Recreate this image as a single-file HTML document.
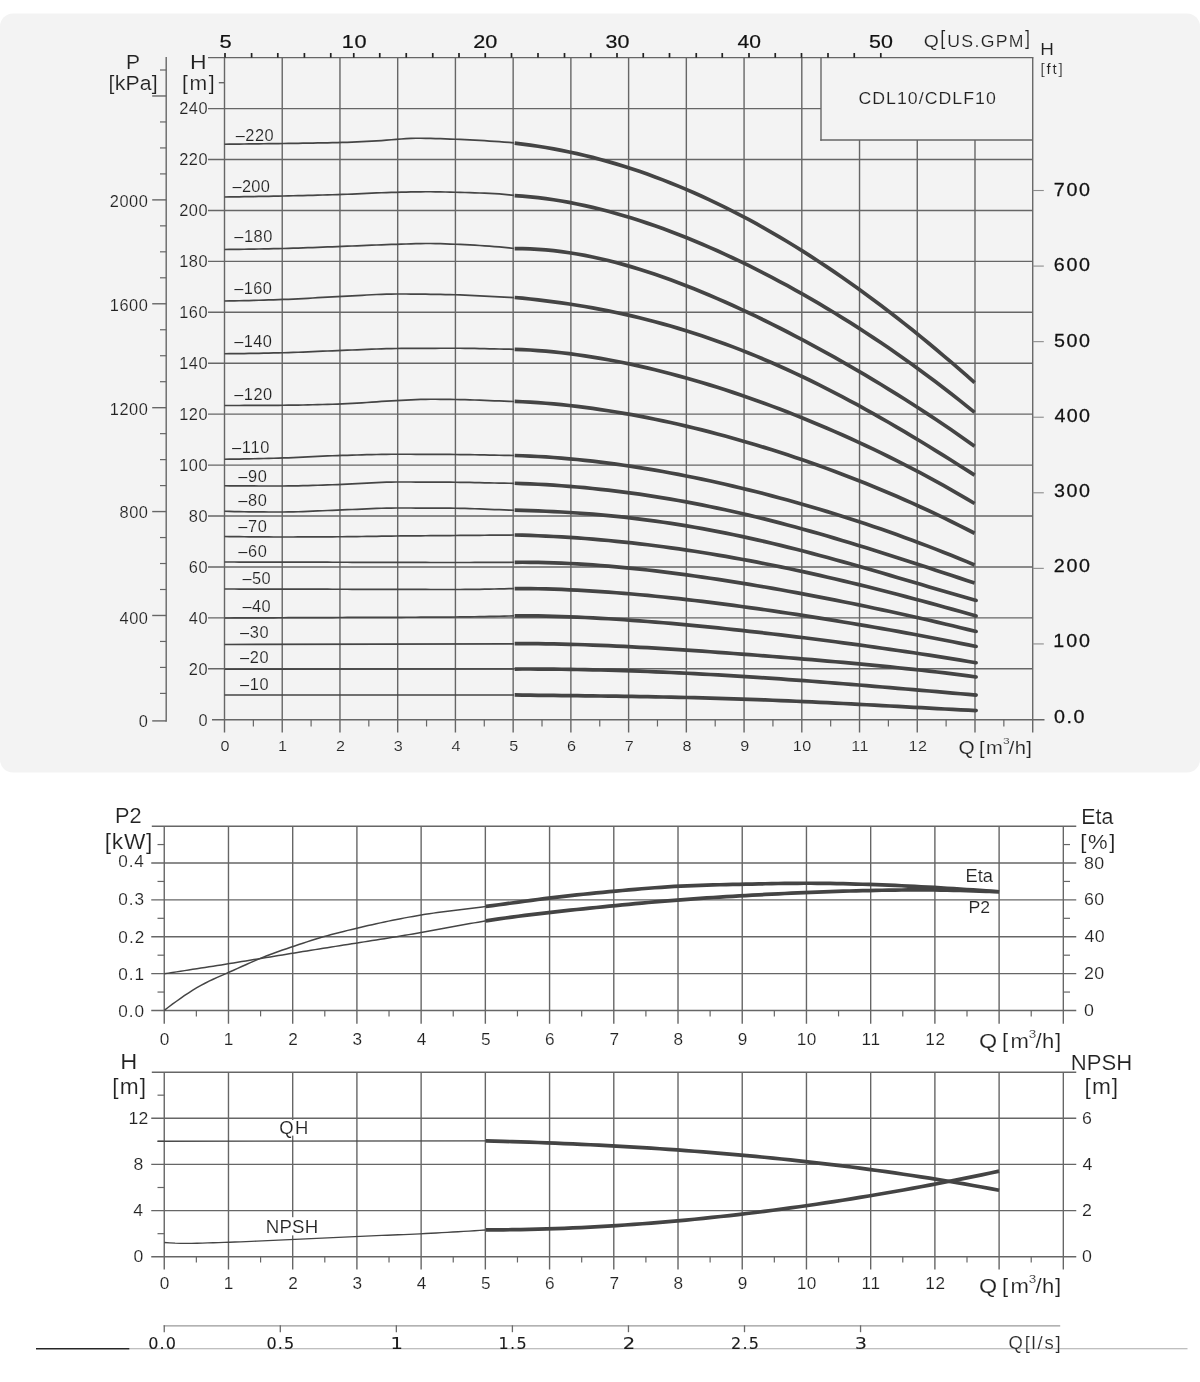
<!DOCTYPE html>
<html lang="en">
<head>
<meta charset="utf-8">
<title>CDL10/CDLF10 performance curves</title>
<style>
html,body{margin:0;padding:0;background:#fff;}
body{width:1200px;height:1382px;overflow:hidden;font-family:"Liberation Sans",sans-serif;}
svg{display:block;}
text{font-family:"Liberation Sans",sans-serif;}
</style>
</head>
<body>
<svg width="1200" height="1382" viewBox="0 0 1200 1382">
<rect x="0" y="0" width="1200" height="1382" fill="#ffffff"/>
<g id="top-chart">
<rect x="0" y="13.5" width="1200" height="759" rx="13" ry="13" fill="#f3f3f3"/>
<g fill="none" stroke-linecap="butt">
<line x1="224.50" y1="57.60" x2="224.50" y2="732.50" stroke="#666666" stroke-width="1.4"/>
<line x1="282.23" y1="57.60" x2="282.23" y2="732.50" stroke="#666666" stroke-width="1.4"/>
<line x1="339.96" y1="57.60" x2="339.96" y2="732.50" stroke="#666666" stroke-width="1.4"/>
<line x1="397.69" y1="57.60" x2="397.69" y2="732.50" stroke="#666666" stroke-width="1.4"/>
<line x1="455.42" y1="57.60" x2="455.42" y2="732.50" stroke="#666666" stroke-width="1.4"/>
<line x1="513.15" y1="57.60" x2="513.15" y2="732.50" stroke="#666666" stroke-width="1.4"/>
<line x1="570.88" y1="57.60" x2="570.88" y2="732.50" stroke="#666666" stroke-width="1.4"/>
<line x1="628.61" y1="57.60" x2="628.61" y2="732.50" stroke="#666666" stroke-width="1.4"/>
<line x1="686.34" y1="57.60" x2="686.34" y2="732.50" stroke="#666666" stroke-width="1.4"/>
<line x1="744.07" y1="57.60" x2="744.07" y2="732.50" stroke="#666666" stroke-width="1.4"/>
<line x1="801.80" y1="57.60" x2="801.80" y2="732.50" stroke="#666666" stroke-width="1.4"/>
<line x1="859.53" y1="140.00" x2="859.53" y2="732.50" stroke="#666666" stroke-width="1.4"/>
<line x1="917.26" y1="140.00" x2="917.26" y2="732.50" stroke="#666666" stroke-width="1.4"/>
<line x1="974.99" y1="140.00" x2="974.99" y2="732.50" stroke="#666666" stroke-width="1.4"/>
<line x1="1032.72" y1="57.60" x2="1032.72" y2="732.50" stroke="#666666" stroke-width="1.4"/>
<line x1="212.00" y1="719.75" x2="1044.50" y2="719.75" stroke="#666666" stroke-width="1.4"/>
<line x1="208.00" y1="668.82" x2="1032.72" y2="668.82" stroke="#666666" stroke-width="1.4"/>
<line x1="208.00" y1="617.89" x2="1032.72" y2="617.89" stroke="#666666" stroke-width="1.4"/>
<line x1="208.00" y1="566.96" x2="1032.72" y2="566.96" stroke="#666666" stroke-width="1.4"/>
<line x1="208.00" y1="516.03" x2="1032.72" y2="516.03" stroke="#666666" stroke-width="1.4"/>
<line x1="208.00" y1="465.10" x2="1032.72" y2="465.10" stroke="#666666" stroke-width="1.4"/>
<line x1="208.00" y1="414.17" x2="1032.72" y2="414.17" stroke="#666666" stroke-width="1.4"/>
<line x1="208.00" y1="363.24" x2="1032.72" y2="363.24" stroke="#666666" stroke-width="1.4"/>
<line x1="208.00" y1="312.31" x2="1032.72" y2="312.31" stroke="#666666" stroke-width="1.4"/>
<line x1="208.00" y1="261.38" x2="1032.72" y2="261.38" stroke="#666666" stroke-width="1.4"/>
<line x1="208.00" y1="210.45" x2="1032.72" y2="210.45" stroke="#666666" stroke-width="1.4"/>
<line x1="208.00" y1="159.52" x2="1032.72" y2="159.52" stroke="#666666" stroke-width="1.4"/>
<line x1="208.00" y1="108.59" x2="821.00" y2="108.59" stroke="#666666" stroke-width="1.4"/>
<line x1="208.00" y1="57.60" x2="1033.42" y2="57.60" stroke="#666666" stroke-width="1.4"/>
<line x1="821.00" y1="57.60" x2="821.00" y2="140.70" stroke="#666666" stroke-width="1.4"/>
<line x1="820.30" y1="140.00" x2="1032.72" y2="140.00" stroke="#666666" stroke-width="1.4"/>
<line x1="218.80" y1="82.70" x2="224.50" y2="82.70" stroke="#666666" stroke-width="1.4"/>
<line x1="253.37" y1="719.75" x2="253.37" y2="726.50" stroke="#666666" stroke-width="1.2"/>
<line x1="311.10" y1="719.75" x2="311.10" y2="726.50" stroke="#666666" stroke-width="1.2"/>
<line x1="368.82" y1="719.75" x2="368.82" y2="726.50" stroke="#666666" stroke-width="1.2"/>
<line x1="426.55" y1="719.75" x2="426.55" y2="726.50" stroke="#666666" stroke-width="1.2"/>
<line x1="484.28" y1="719.75" x2="484.28" y2="726.50" stroke="#666666" stroke-width="1.2"/>
<line x1="542.01" y1="719.75" x2="542.01" y2="726.50" stroke="#666666" stroke-width="1.2"/>
<line x1="599.75" y1="719.75" x2="599.75" y2="726.50" stroke="#666666" stroke-width="1.2"/>
<line x1="657.47" y1="719.75" x2="657.47" y2="726.50" stroke="#666666" stroke-width="1.2"/>
<line x1="715.20" y1="719.75" x2="715.20" y2="726.50" stroke="#666666" stroke-width="1.2"/>
<line x1="772.93" y1="719.75" x2="772.93" y2="726.50" stroke="#666666" stroke-width="1.2"/>
<line x1="830.66" y1="719.75" x2="830.66" y2="726.50" stroke="#666666" stroke-width="1.2"/>
<line x1="888.39" y1="719.75" x2="888.39" y2="726.50" stroke="#666666" stroke-width="1.2"/>
<line x1="946.12" y1="719.75" x2="946.12" y2="726.50" stroke="#666666" stroke-width="1.2"/>
<line x1="1003.85" y1="719.75" x2="1003.85" y2="726.50" stroke="#666666" stroke-width="1.2"/>
<line x1="225.00" y1="53.00" x2="225.00" y2="57.60" stroke="#222" stroke-width="1.7"/>
<line x1="251.60" y1="53.00" x2="251.60" y2="57.60" stroke="#222" stroke-width="1.7"/>
<line x1="277.80" y1="53.00" x2="277.80" y2="57.60" stroke="#222" stroke-width="1.7"/>
<line x1="304.40" y1="53.00" x2="304.40" y2="57.60" stroke="#222" stroke-width="1.7"/>
<line x1="330.75" y1="53.00" x2="330.75" y2="57.60" stroke="#222" stroke-width="1.7"/>
<line x1="353.75" y1="53.00" x2="353.75" y2="57.60" stroke="#222" stroke-width="1.7"/>
<line x1="379.75" y1="53.00" x2="379.75" y2="57.60" stroke="#222" stroke-width="1.7"/>
<line x1="406.25" y1="53.00" x2="406.25" y2="57.60" stroke="#222" stroke-width="1.7"/>
<line x1="432.75" y1="53.00" x2="432.75" y2="57.60" stroke="#222" stroke-width="1.7"/>
<line x1="459.00" y1="53.00" x2="459.00" y2="57.60" stroke="#222" stroke-width="1.7"/>
<line x1="485.25" y1="53.00" x2="485.25" y2="57.60" stroke="#222" stroke-width="1.7"/>
<line x1="511.50" y1="53.00" x2="511.50" y2="57.60" stroke="#222" stroke-width="1.7"/>
<line x1="538.00" y1="53.00" x2="538.00" y2="57.60" stroke="#222" stroke-width="1.7"/>
<line x1="564.50" y1="53.00" x2="564.50" y2="57.60" stroke="#222" stroke-width="1.7"/>
<line x1="590.75" y1="53.00" x2="590.75" y2="57.60" stroke="#222" stroke-width="1.7"/>
<line x1="617.00" y1="53.00" x2="617.00" y2="57.60" stroke="#222" stroke-width="1.7"/>
<line x1="643.25" y1="53.00" x2="643.25" y2="57.60" stroke="#222" stroke-width="1.7"/>
<line x1="669.50" y1="53.00" x2="669.50" y2="57.60" stroke="#222" stroke-width="1.7"/>
<line x1="696.25" y1="53.00" x2="696.25" y2="57.60" stroke="#222" stroke-width="1.7"/>
<line x1="722.25" y1="53.00" x2="722.25" y2="57.60" stroke="#222" stroke-width="1.7"/>
<line x1="749.00" y1="53.00" x2="749.00" y2="57.60" stroke="#222" stroke-width="1.7"/>
<line x1="775.25" y1="53.00" x2="775.25" y2="57.60" stroke="#222" stroke-width="1.7"/>
<line x1="801.50" y1="53.00" x2="801.50" y2="57.60" stroke="#222" stroke-width="1.7"/>
<line x1="828.00" y1="53.00" x2="828.00" y2="57.60" stroke="#222" stroke-width="1.7"/>
<line x1="854.25" y1="53.00" x2="854.25" y2="57.60" stroke="#222" stroke-width="1.7"/>
<line x1="880.80" y1="53.00" x2="880.80" y2="57.60" stroke="#222" stroke-width="1.7"/>
<line x1="166.20" y1="56.90" x2="166.20" y2="721.70" stroke="#666666" stroke-width="1.4"/>
<line x1="152.20" y1="720.90" x2="166.20" y2="720.90" stroke="#666666" stroke-width="1.4"/>
<line x1="160.00" y1="693.40" x2="166.20" y2="693.40" stroke="#666666" stroke-width="1.2"/>
<line x1="160.00" y1="667.42" x2="166.20" y2="667.42" stroke="#666666" stroke-width="1.2"/>
<line x1="160.00" y1="641.45" x2="166.20" y2="641.45" stroke="#666666" stroke-width="1.2"/>
<line x1="152.20" y1="615.48" x2="166.20" y2="615.48" stroke="#666666" stroke-width="1.4"/>
<line x1="160.00" y1="589.50" x2="166.20" y2="589.50" stroke="#666666" stroke-width="1.2"/>
<line x1="160.00" y1="563.52" x2="166.20" y2="563.52" stroke="#666666" stroke-width="1.2"/>
<line x1="160.00" y1="537.55" x2="166.20" y2="537.55" stroke="#666666" stroke-width="1.2"/>
<line x1="152.20" y1="511.57" x2="166.20" y2="511.57" stroke="#666666" stroke-width="1.4"/>
<line x1="160.00" y1="485.60" x2="166.20" y2="485.60" stroke="#666666" stroke-width="1.2"/>
<line x1="160.00" y1="459.62" x2="166.20" y2="459.62" stroke="#666666" stroke-width="1.2"/>
<line x1="160.00" y1="433.65" x2="166.20" y2="433.65" stroke="#666666" stroke-width="1.2"/>
<line x1="152.20" y1="407.68" x2="166.20" y2="407.68" stroke="#666666" stroke-width="1.4"/>
<line x1="160.00" y1="381.70" x2="166.20" y2="381.70" stroke="#666666" stroke-width="1.2"/>
<line x1="160.00" y1="355.73" x2="166.20" y2="355.73" stroke="#666666" stroke-width="1.2"/>
<line x1="160.00" y1="329.75" x2="166.20" y2="329.75" stroke="#666666" stroke-width="1.2"/>
<line x1="152.20" y1="303.78" x2="166.20" y2="303.78" stroke="#666666" stroke-width="1.4"/>
<line x1="160.00" y1="277.80" x2="166.20" y2="277.80" stroke="#666666" stroke-width="1.2"/>
<line x1="160.00" y1="251.82" x2="166.20" y2="251.82" stroke="#666666" stroke-width="1.2"/>
<line x1="160.00" y1="225.85" x2="166.20" y2="225.85" stroke="#666666" stroke-width="1.2"/>
<line x1="152.20" y1="199.88" x2="166.20" y2="199.88" stroke="#666666" stroke-width="1.4"/>
<line x1="160.00" y1="173.90" x2="166.20" y2="173.90" stroke="#666666" stroke-width="1.2"/>
<line x1="160.00" y1="147.93" x2="166.20" y2="147.93" stroke="#666666" stroke-width="1.2"/>
<line x1="160.00" y1="121.95" x2="166.20" y2="121.95" stroke="#666666" stroke-width="1.2"/>
<line x1="152.20" y1="95.98" x2="166.20" y2="95.98" stroke="#666666" stroke-width="1.4"/>
<line x1="160.00" y1="70.00" x2="166.20" y2="70.00" stroke="#666666" stroke-width="1.2"/>
<line x1="1032.72" y1="643.93" x2="1043.80" y2="643.93" stroke="#8c8c8c" stroke-width="1.1"/>
<line x1="1032.72" y1="568.36" x2="1043.80" y2="568.36" stroke="#8c8c8c" stroke-width="1.1"/>
<line x1="1032.72" y1="492.79" x2="1043.80" y2="492.79" stroke="#8c8c8c" stroke-width="1.1"/>
<line x1="1032.72" y1="417.22" x2="1043.80" y2="417.22" stroke="#8c8c8c" stroke-width="1.1"/>
<line x1="1032.72" y1="341.65" x2="1043.80" y2="341.65" stroke="#8c8c8c" stroke-width="1.1"/>
<line x1="1032.72" y1="266.08" x2="1043.80" y2="266.08" stroke="#8c8c8c" stroke-width="1.1"/>
<line x1="1032.72" y1="190.51" x2="1043.80" y2="190.51" stroke="#8c8c8c" stroke-width="1.1"/>
</g>
<g fill="none" stroke="#454545" stroke-width="1.7">
<path d="M224.50,144.25 L229.41,144.20 L234.31,144.14 L239.22,144.08 L244.13,144.02 L249.03,143.96 L253.94,143.90 L258.85,143.83 L263.75,143.77 L268.66,143.70 L273.57,143.63 L278.47,143.56 L283.38,143.49 L288.29,143.42 L293.19,143.35 L298.10,143.28 L303.01,143.20 L307.92,143.13 L312.82,143.05 L317.73,142.97 L322.64,142.88 L327.54,142.79 L332.45,142.68 L337.36,142.57 L342.26,142.44 L347.17,142.29 L352.08,142.11 L356.98,141.91 L361.89,141.69 L366.80,141.44 L371.70,141.18 L376.61,140.90 L381.52,140.60 L386.42,140.20 L391.33,139.74 L396.24,139.34 L401.14,139.00 L406.05,138.67 L410.96,138.40 L415.86,138.26 L420.77,138.27 L425.68,138.33 L430.58,138.43 L435.49,138.56 L440.40,138.71 L445.31,138.88 L450.21,139.06 L455.12,139.24 L460.03,139.42 L464.93,139.64 L469.84,139.88 L474.75,140.14 L479.65,140.42 L484.56,140.72 L489.47,141.04 L494.37,141.37 L499.28,141.70 L504.19,142.06 L509.09,142.47 L514.00,142.90"/>
<path d="M224.50,197.00 L229.41,196.94 L234.31,196.87 L239.22,196.79 L244.13,196.72 L249.03,196.63 L253.94,196.55 L258.85,196.46 L263.75,196.37 L268.66,196.28 L273.57,196.18 L278.47,196.08 L283.38,195.98 L288.29,195.88 L293.19,195.77 L298.10,195.65 L303.01,195.53 L307.92,195.41 L312.82,195.28 L317.73,195.15 L322.64,195.02 L327.54,194.88 L332.45,194.73 L337.36,194.58 L342.26,194.43 L347.17,194.25 L352.08,194.05 L356.98,193.85 L361.89,193.63 L366.80,193.41 L371.70,193.18 L376.61,192.97 L381.52,192.77 L386.42,192.58 L391.33,192.42 L396.24,192.28 L401.14,192.16 L406.05,192.04 L410.96,191.93 L415.86,191.84 L420.77,191.78 L425.68,191.75 L430.58,191.77 L435.49,191.82 L440.40,191.91 L445.31,192.01 L450.21,192.13 L455.12,192.24 L460.03,192.36 L464.93,192.49 L469.84,192.64 L474.75,192.80 L479.65,192.99 L484.56,193.19 L489.47,193.42 L494.37,193.68 L499.28,193.96 L504.19,194.33 L509.09,194.84 L514.00,195.40"/>
<path d="M224.50,249.50 L229.41,249.45 L234.31,249.40 L239.22,249.33 L244.13,249.26 L249.03,249.18 L253.94,249.10 L258.85,249.01 L263.75,248.91 L268.66,248.81 L273.57,248.70 L278.47,248.59 L283.38,248.48 L288.29,248.35 L293.19,248.21 L298.10,248.06 L303.01,247.90 L307.92,247.72 L312.82,247.54 L317.73,247.35 L322.64,247.16 L327.54,246.97 L332.45,246.78 L337.36,246.60 L342.26,246.42 L347.17,246.22 L352.08,246.02 L356.98,245.82 L361.89,245.61 L366.80,245.40 L371.70,245.19 L376.61,244.99 L381.52,244.79 L386.42,244.61 L391.33,244.44 L396.24,244.29 L401.14,244.14 L406.05,243.99 L410.96,243.84 L415.86,243.70 L420.77,243.59 L425.68,243.52 L430.58,243.50 L435.49,243.55 L440.40,243.68 L445.31,243.84 L450.21,244.04 L455.12,244.24 L460.03,244.44 L464.93,244.66 L469.84,244.92 L474.75,245.20 L479.65,245.50 L484.56,245.83 L489.47,246.18 L494.37,246.55 L499.28,246.94 L504.19,247.39 L509.09,247.92 L514.00,248.50"/>
<path d="M224.50,301.00 L229.41,300.93 L234.31,300.85 L239.22,300.75 L244.13,300.64 L249.03,300.53 L253.94,300.40 L258.85,300.26 L263.75,300.11 L268.66,299.96 L273.57,299.80 L278.47,299.64 L283.38,299.47 L288.29,299.28 L293.19,299.06 L298.10,298.82 L303.01,298.56 L307.92,298.28 L312.82,298.00 L317.73,297.72 L322.64,297.43 L327.54,297.15 L332.45,296.88 L337.36,296.63 L342.26,296.39 L347.17,296.13 L352.08,295.86 L356.98,295.57 L361.89,295.29 L366.80,295.01 L371.70,294.76 L376.61,294.52 L381.52,294.32 L386.42,294.16 L391.33,294.05 L396.24,294.00 L401.14,294.00 L406.05,294.02 L410.96,294.05 L415.86,294.09 L420.77,294.15 L425.68,294.21 L430.58,294.28 L435.49,294.36 L440.40,294.45 L445.31,294.54 L450.21,294.64 L455.12,294.74 L460.03,294.87 L464.93,295.06 L469.84,295.30 L474.75,295.56 L479.65,295.85 L484.56,296.15 L489.47,296.44 L494.37,296.72 L499.28,296.97 L504.19,297.19 L509.09,297.40 L514.00,297.60"/>
<path d="M224.50,353.75 L229.41,353.71 L234.31,353.66 L239.22,353.60 L244.13,353.54 L249.03,353.46 L253.94,353.37 L258.85,353.28 L263.75,353.18 L268.66,353.07 L273.57,352.96 L278.47,352.85 L283.38,352.73 L288.29,352.59 L293.19,352.44 L298.10,352.26 L303.01,352.07 L307.92,351.86 L312.82,351.65 L317.73,351.43 L322.64,351.22 L327.54,351.00 L332.45,350.80 L337.36,350.60 L342.26,350.41 L347.17,350.22 L352.08,350.01 L356.98,349.80 L361.89,349.58 L366.80,349.37 L371.70,349.17 L376.61,348.99 L381.52,348.82 L386.42,348.69 L391.33,348.58 L396.24,348.51 L401.14,348.47 L406.05,348.44 L410.96,348.40 L415.86,348.37 L420.77,348.35 L425.68,348.32 L430.58,348.30 L435.49,348.28 L440.40,348.27 L445.31,348.26 L450.21,348.25 L455.12,348.25 L460.03,348.26 L464.93,348.31 L469.84,348.37 L474.75,348.46 L479.65,348.56 L484.56,348.66 L489.47,348.78 L494.37,348.88 L499.28,348.99 L504.19,349.08 L509.09,349.19 L514.00,349.30"/>
<path d="M224.50,405.50 L229.41,405.50 L234.31,405.49 L239.22,405.48 L244.13,405.47 L249.03,405.45 L253.94,405.43 L258.85,405.40 L263.75,405.37 L268.66,405.34 L273.57,405.31 L278.47,405.28 L283.38,405.24 L288.29,405.20 L293.19,405.14 L298.10,405.06 L303.01,404.98 L307.92,404.88 L312.82,404.77 L317.73,404.65 L322.64,404.52 L327.54,404.38 L332.45,404.24 L337.36,404.08 L342.26,403.92 L347.17,403.71 L352.08,403.45 L356.98,403.16 L361.89,402.83 L366.80,402.49 L371.70,402.14 L376.61,401.79 L381.52,401.44 L386.42,401.12 L391.33,400.82 L396.24,400.56 L401.14,400.32 L406.05,400.07 L410.96,399.82 L415.86,399.59 L420.77,399.41 L425.68,399.29 L430.58,399.25 L435.49,399.27 L440.40,399.30 L445.31,399.36 L450.21,399.42 L455.12,399.49 L460.03,399.58 L464.93,399.70 L469.84,399.85 L474.75,400.02 L479.65,400.21 L484.56,400.40 L489.47,400.60 L494.37,400.79 L499.28,400.97 L504.19,401.15 L509.09,401.32 L514.00,401.50"/>
<path d="M224.50,459.25 L229.41,459.19 L234.31,459.12 L239.22,459.04 L244.13,458.95 L249.03,458.85 L253.94,458.75 L258.85,458.63 L263.75,458.51 L268.66,458.38 L273.57,458.25 L278.47,458.11 L283.38,457.97 L288.29,457.81 L293.19,457.62 L298.10,457.40 L303.01,457.16 L307.92,456.92 L312.82,456.67 L317.73,456.42 L322.64,456.19 L327.54,455.96 L332.45,455.76 L337.36,455.58 L342.26,455.43 L347.17,455.29 L352.08,455.14 L356.98,454.99 L361.89,454.85 L366.80,454.72 L371.70,454.59 L376.61,454.49 L381.52,454.39 L386.42,454.32 L391.33,454.27 L396.24,454.25 L401.14,454.25 L406.05,454.26 L410.96,454.27 L415.86,454.28 L420.77,454.30 L425.68,454.32 L430.58,454.34 L435.49,454.37 L440.40,454.40 L445.31,454.43 L450.21,454.46 L455.12,454.50 L460.03,454.54 L464.93,454.60 L469.84,454.68 L474.75,454.76 L479.65,454.85 L484.56,454.95 L489.47,455.05 L494.37,455.15 L499.28,455.24 L504.19,455.32 L509.09,455.41 L514.00,455.50"/>
<path d="M224.50,485.75 L229.41,485.81 L234.31,485.86 L239.22,485.90 L244.13,485.93 L249.03,485.95 L253.94,485.97 L258.85,485.98 L263.75,485.99 L268.66,486.00 L273.57,486.00 L278.47,486.00 L283.38,486.00 L288.29,485.97 L293.19,485.92 L298.10,485.83 L303.01,485.72 L307.92,485.58 L312.82,485.43 L317.73,485.27 L322.64,485.10 L327.54,484.93 L332.45,484.76 L337.36,484.59 L342.26,484.42 L347.17,484.21 L352.08,483.97 L356.98,483.70 L361.89,483.42 L366.80,483.13 L371.70,482.85 L376.61,482.59 L381.52,482.37 L386.42,482.19 L391.33,482.06 L396.24,482.00 L401.14,482.00 L406.05,482.01 L410.96,482.02 L415.86,482.03 L420.77,482.05 L425.68,482.07 L430.58,482.09 L435.49,482.12 L440.40,482.15 L445.31,482.18 L450.21,482.21 L455.12,482.25 L460.03,482.29 L464.93,482.37 L469.84,482.46 L474.75,482.56 L479.65,482.67 L484.56,482.78 L489.47,482.90 L494.37,483.00 L499.28,483.09 L504.19,483.16 L509.09,483.23 L514.00,483.30"/>
<path d="M224.50,511.25 L229.41,511.42 L234.31,511.56 L239.22,511.67 L244.13,511.77 L249.03,511.84 L253.94,511.90 L258.85,511.94 L263.75,511.97 L268.66,511.99 L273.57,512.00 L278.47,512.00 L283.38,512.00 L288.29,511.96 L293.19,511.87 L298.10,511.75 L303.01,511.58 L307.92,511.39 L312.82,511.18 L317.73,510.96 L322.64,510.73 L327.54,510.51 L332.45,510.29 L337.36,510.10 L342.26,509.92 L347.17,509.72 L352.08,509.51 L356.98,509.29 L361.89,509.06 L366.80,508.84 L371.70,508.62 L376.61,508.43 L381.52,508.27 L386.42,508.13 L391.33,508.04 L396.24,508.00 L401.14,508.00 L406.05,508.01 L410.96,508.02 L415.86,508.03 L420.77,508.04 L425.68,508.06 L430.58,508.09 L435.49,508.11 L440.40,508.14 L445.31,508.17 L450.21,508.21 L455.12,508.25 L460.03,508.31 L464.93,508.42 L469.84,508.56 L474.75,508.73 L479.65,508.93 L484.56,509.13 L489.47,509.34 L494.37,509.54 L499.28,509.72 L504.19,509.90 L509.09,510.07 L514.00,510.25"/>
<path d="M224.50,536.50 L229.41,536.57 L234.31,536.64 L239.22,536.70 L244.13,536.76 L249.03,536.82 L253.94,536.86 L258.85,536.90 L263.75,536.94 L268.66,536.97 L273.57,536.99 L278.47,537.00 L283.38,537.00 L288.29,537.00 L293.19,536.99 L298.10,536.97 L303.01,536.96 L307.92,536.94 L312.82,536.91 L317.73,536.89 L322.64,536.86 L327.54,536.83 L332.45,536.80 L337.36,536.77 L342.26,536.73 L347.17,536.69 L352.08,536.64 L356.98,536.57 L361.89,536.51 L366.80,536.43 L371.70,536.36 L376.61,536.28 L381.52,536.21 L386.42,536.14 L391.33,536.07 L396.24,536.01 L401.14,535.96 L406.05,535.92 L410.96,535.87 L415.86,535.83 L420.77,535.78 L425.68,535.74 L430.58,535.70 L435.49,535.66 L440.40,535.62 L445.31,535.59 L450.21,535.54 L455.12,535.50 L460.03,535.46 L464.93,535.42 L469.84,535.38 L474.75,535.34 L479.65,535.29 L484.56,535.25 L489.47,535.21 L494.37,535.17 L499.28,535.13 L504.19,535.08 L509.09,535.04 L514.00,535.00"/>
<path d="M224.50,562.00 L229.41,562.01 L234.31,562.02 L239.22,562.03 L244.13,562.04 L249.03,562.05 L253.94,562.06 L258.85,562.07 L263.75,562.08 L268.66,562.10 L273.57,562.11 L278.47,562.12 L283.38,562.13 L288.29,562.14 L293.19,562.15 L298.10,562.16 L303.01,562.17 L307.92,562.18 L312.82,562.19 L317.73,562.20 L322.64,562.21 L327.54,562.22 L332.45,562.23 L337.36,562.24 L342.26,562.25 L347.17,562.27 L352.08,562.28 L356.98,562.29 L361.89,562.30 L366.80,562.32 L371.70,562.33 L376.61,562.35 L381.52,562.36 L386.42,562.37 L391.33,562.39 L396.24,562.40 L401.14,562.42 L406.05,562.43 L410.96,562.44 L415.86,562.45 L420.77,562.46 L425.68,562.47 L430.58,562.48 L435.49,562.49 L440.40,562.49 L445.31,562.50 L450.21,562.50 L455.12,562.50 L460.03,562.50 L464.93,562.49 L469.84,562.48 L474.75,562.46 L479.65,562.45 L484.56,562.42 L489.47,562.40 L494.37,562.37 L499.28,562.34 L504.19,562.31 L509.09,562.28 L514.00,562.25"/>
<path d="M224.50,589.00 L229.41,589.01 L234.31,589.02 L239.22,589.03 L244.13,589.04 L249.03,589.05 L253.94,589.06 L258.85,589.07 L263.75,589.08 L268.66,589.10 L273.57,589.11 L278.47,589.12 L283.38,589.13 L288.29,589.14 L293.19,589.15 L298.10,589.16 L303.01,589.17 L307.92,589.18 L312.82,589.19 L317.73,589.20 L322.64,589.21 L327.54,589.22 L332.45,589.23 L337.36,589.24 L342.26,589.25 L347.17,589.27 L352.08,589.28 L356.98,589.29 L361.89,589.30 L366.80,589.32 L371.70,589.33 L376.61,589.35 L381.52,589.36 L386.42,589.37 L391.33,589.39 L396.24,589.40 L401.14,589.42 L406.05,589.43 L410.96,589.44 L415.86,589.45 L420.77,589.46 L425.68,589.47 L430.58,589.48 L435.49,589.49 L440.40,589.49 L445.31,589.50 L450.21,589.50 L455.12,589.50 L460.03,589.49 L464.93,589.46 L469.84,589.42 L474.75,589.36 L479.65,589.29 L484.56,589.21 L489.47,589.12 L494.37,589.02 L499.28,588.92 L504.19,588.81 L509.09,588.71 L514.00,588.60"/>
<path d="M224.50,618.00 L229.41,617.98 L234.31,617.96 L239.22,617.94 L244.13,617.92 L249.03,617.89 L253.94,617.87 L258.85,617.85 L263.75,617.83 L268.66,617.81 L273.57,617.79 L278.47,617.77 L283.38,617.75 L288.29,617.72 L293.19,617.70 L298.10,617.68 L303.01,617.66 L307.92,617.64 L312.82,617.62 L317.73,617.60 L322.64,617.58 L327.54,617.55 L332.45,617.53 L337.36,617.51 L342.26,617.49 L347.17,617.47 L352.08,617.45 L356.98,617.43 L361.89,617.42 L366.80,617.40 L371.70,617.38 L376.61,617.37 L381.52,617.35 L386.42,617.34 L391.33,617.32 L396.24,617.30 L401.14,617.28 L406.05,617.27 L410.96,617.25 L415.86,617.23 L420.77,617.21 L425.68,617.18 L430.58,617.16 L435.49,617.13 L440.40,617.10 L445.31,617.07 L450.21,617.04 L455.12,617.00 L460.03,616.96 L464.93,616.90 L469.84,616.84 L474.75,616.76 L479.65,616.67 L484.56,616.57 L489.47,616.47 L494.37,616.36 L499.28,616.25 L504.19,616.13 L509.09,616.02 L514.00,615.90"/>
<path d="M224.50,644.50 L514.00,643.90"/>
<path d="M224.50,669.25 L514.00,669.00"/>
<path d="M224.50,695.00 L514.00,695.00"/>
</g>
<g fill="none" stroke="#444444" stroke-width="3.7" stroke-linecap="butt">
<path d="M514.65,143.20 L522.45,144.11 L530.24,145.14 L538.04,146.27 L545.83,147.52 L553.63,148.89 L561.42,150.36 L569.22,151.96 L577.01,153.66 L584.81,155.48 L592.61,157.41 L600.40,159.46 L608.20,161.61 L615.99,163.88 L623.79,166.27 L631.58,168.76 L639.38,171.37 L647.18,174.09 L654.97,176.92 L662.77,179.87 L670.56,182.92 L678.36,186.09 L686.15,189.36 L693.95,192.75 L701.74,196.24 L709.54,199.84 L717.34,203.55 L725.13,207.37 L732.93,211.30 L740.72,215.34 L748.52,219.48 L756.31,223.72 L764.11,228.07 L771.90,232.53 L779.70,237.09 L787.50,241.76 L795.29,246.52 L803.09,251.39 L810.88,256.36 L818.68,261.43 L826.47,266.60 L834.27,271.87 L842.06,277.24 L849.86,282.70 L857.66,288.27 L865.45,293.92 L873.25,299.67 L881.04,305.52 L888.84,311.46 L896.63,317.49 L904.43,323.61 L912.23,329.82 L920.02,336.12 L927.82,342.51 L935.61,348.99 L943.41,355.55 L951.20,362.19 L959.00,368.92 L966.79,375.73 L974.59,382.62"/>
<path d="M514.65,195.57 L522.45,196.11 L530.24,196.81 L538.04,197.66 L545.83,198.65 L553.63,199.78 L561.42,201.04 L569.22,202.44 L577.01,203.97 L584.81,205.63 L592.61,207.41 L600.40,209.31 L608.20,211.33 L615.99,213.47 L623.79,215.72 L631.58,218.08 L639.38,220.55 L647.18,223.13 L654.97,225.81 L662.77,228.59 L670.56,231.48 L678.36,234.46 L686.15,237.54 L693.95,240.71 L701.74,243.98 L709.54,247.33 L717.34,250.78 L725.13,254.32 L732.93,257.95 L740.72,261.66 L748.52,265.46 L756.31,269.35 L764.11,273.32 L771.90,277.37 L779.70,281.51 L787.50,285.73 L795.29,290.03 L803.09,294.41 L810.88,298.88 L818.68,303.43 L826.47,308.06 L834.27,312.77 L842.06,317.57 L849.86,322.44 L857.66,327.41 L865.45,332.45 L873.25,337.58 L881.04,342.79 L888.84,348.09 L896.63,353.48 L904.43,358.96 L912.23,364.52 L920.02,370.18 L927.82,375.92 L935.61,381.76 L943.41,387.70 L951.20,393.73 L959.00,399.86 L966.79,406.09 L974.59,412.42"/>
<path d="M514.65,248.67 L522.45,248.69 L530.24,248.90 L538.04,249.30 L545.83,249.89 L553.63,250.66 L561.42,251.60 L569.22,252.71 L577.01,253.98 L584.81,255.40 L592.61,256.98 L600.40,258.69 L608.20,260.55 L615.99,262.54 L623.79,264.66 L631.58,266.90 L639.38,269.27 L647.18,271.74 L654.97,274.33 L662.77,277.03 L670.56,279.83 L678.36,282.72 L686.15,285.72 L693.95,288.80 L701.74,291.98 L709.54,295.23 L717.34,298.58 L725.13,302.00 L732.93,305.50 L740.72,309.07 L748.52,312.72 L756.31,316.44 L764.11,320.23 L771.90,324.08 L779.70,328.00 L787.50,331.99 L795.29,336.04 L803.09,340.15 L810.88,344.32 L818.68,348.55 L826.47,352.84 L834.27,357.19 L842.06,361.60 L849.86,366.07 L857.66,370.60 L865.45,375.18 L873.25,379.83 L881.04,384.54 L888.84,389.31 L896.63,394.14 L904.43,399.03 L912.23,403.99 L920.02,409.02 L927.82,414.11 L935.61,419.28 L943.41,424.51 L951.20,429.82 L959.00,435.20 L966.79,440.67 L974.59,446.21"/>
<path d="M514.65,297.47 L522.45,298.21 L530.24,299.01 L538.04,299.88 L545.83,300.81 L553.63,301.81 L561.42,302.88 L569.22,304.02 L577.01,305.23 L584.81,306.52 L592.61,307.89 L600.40,309.33 L608.20,310.85 L615.99,312.46 L623.79,314.15 L631.58,315.92 L639.38,317.78 L647.18,319.72 L654.97,321.75 L662.77,323.86 L670.56,326.06 L678.36,328.36 L686.15,330.74 L693.95,333.20 L701.74,335.76 L709.54,338.41 L717.34,341.14 L725.13,343.97 L732.93,346.88 L740.72,349.88 L748.52,352.97 L756.31,356.15 L764.11,359.42 L771.90,362.77 L779.70,366.20 L787.50,369.72 L795.29,373.32 L803.09,377.01 L810.88,380.78 L818.68,384.62 L826.47,388.54 L834.27,392.54 L842.06,396.62 L849.86,400.76 L857.66,404.98 L865.45,409.27 L873.25,413.62 L881.04,418.04 L888.84,422.52 L896.63,427.06 L904.43,431.66 L912.23,436.32 L920.02,441.02 L927.82,445.77 L935.61,450.58 L943.41,455.42 L951.20,460.30 L959.00,465.23 L966.79,470.18 L974.59,475.17"/>
<path d="M514.65,349.28 L522.45,349.59 L530.24,350.02 L538.04,350.55 L545.83,351.18 L553.63,351.92 L561.42,352.76 L569.22,353.69 L577.01,354.72 L584.81,355.85 L592.61,357.06 L600.40,358.36 L608.20,359.75 L615.99,361.22 L623.79,362.78 L631.58,364.42 L639.38,366.13 L647.18,367.92 L654.97,369.79 L662.77,371.74 L670.56,373.75 L678.36,375.84 L686.15,378.00 L693.95,380.23 L701.74,382.52 L709.54,384.88 L717.34,387.31 L725.13,389.81 L732.93,392.37 L740.72,394.99 L748.52,397.68 L756.31,400.43 L764.11,403.24 L771.90,406.12 L779.70,409.06 L787.50,412.05 L795.29,415.11 L803.09,418.24 L810.88,421.42 L818.68,424.67 L826.47,427.97 L834.27,431.34 L842.06,434.78 L849.86,438.27 L857.66,441.83 L865.45,445.46 L873.25,449.15 L881.04,452.90 L888.84,456.72 L896.63,460.61 L904.43,464.57 L912.23,468.60 L920.02,472.70 L927.82,476.87 L935.61,481.11 L943.41,485.43 L951.20,489.83 L959.00,494.30 L966.79,498.86 L974.59,503.50"/>
<path d="M514.65,401.40 L522.45,401.75 L530.24,402.18 L538.04,402.69 L545.83,403.28 L553.63,403.95 L561.42,404.70 L569.22,405.53 L577.01,406.43 L584.81,407.40 L592.61,408.44 L600.40,409.56 L608.20,410.74 L615.99,411.99 L623.79,413.31 L631.58,414.69 L639.38,416.14 L647.18,417.65 L654.97,419.22 L662.77,420.85 L670.56,422.55 L678.36,424.30 L686.15,426.11 L693.95,427.99 L701.74,429.92 L709.54,431.90 L717.34,433.95 L725.13,436.04 L732.93,438.20 L740.72,440.41 L748.52,442.68 L756.31,445.00 L764.11,447.38 L771.90,449.81 L779.70,452.29 L787.50,454.83 L795.29,457.43 L803.09,460.08 L810.88,462.79 L818.68,465.55 L826.47,468.37 L834.27,471.24 L842.06,474.17 L849.86,477.15 L857.66,480.20 L865.45,483.30 L873.25,486.46 L881.04,489.68 L888.84,492.96 L896.63,496.30 L904.43,499.70 L912.23,503.17 L920.02,506.70 L927.82,510.29 L935.61,513.95 L943.41,517.67 L951.20,521.47 L959.00,525.33 L966.79,529.26 L974.59,533.27"/>
<path d="M514.65,455.49 L522.45,455.75 L530.24,456.09 L538.04,456.49 L545.83,456.97 L553.63,457.51 L561.42,458.12 L569.22,458.79 L577.01,459.53 L584.81,460.33 L592.61,461.19 L600.40,462.12 L608.20,463.10 L615.99,464.14 L623.79,465.23 L631.58,466.39 L639.38,467.60 L647.18,468.86 L654.97,470.17 L662.77,471.54 L670.56,472.96 L678.36,474.43 L686.15,475.96 L693.95,477.53 L701.74,479.15 L709.54,480.81 L717.34,482.53 L725.13,484.29 L732.93,486.10 L740.72,487.96 L748.52,489.86 L756.31,491.81 L764.11,493.81 L771.90,495.85 L779.70,497.93 L787.50,500.06 L795.29,502.23 L803.09,504.45 L810.88,506.72 L818.68,509.02 L826.47,511.38 L834.27,513.77 L842.06,516.22 L849.86,518.70 L857.66,521.23 L865.45,523.81 L873.25,526.44 L881.04,529.11 L888.84,531.82 L896.63,534.58 L904.43,537.40 L912.23,540.25 L920.02,543.16 L927.82,546.12 L935.61,549.12 L943.41,552.18 L951.20,555.28 L959.00,558.44 L966.79,561.65 L974.59,564.92"/>
<path d="M514.65,483.25 L522.45,483.54 L530.24,483.88 L538.04,484.27 L545.83,484.71 L553.63,485.20 L561.42,485.75 L569.22,486.35 L577.01,487.00 L584.81,487.71 L592.61,488.47 L600.40,489.29 L608.20,490.16 L615.99,491.09 L623.79,492.07 L631.58,493.11 L639.38,494.20 L647.18,495.34 L654.97,496.55 L662.77,497.80 L670.56,499.12 L678.36,500.48 L686.15,501.90 L693.95,503.37 L701.74,504.90 L709.54,506.48 L717.34,508.10 L725.13,509.78 L732.93,511.51 L740.72,513.29 L748.52,515.12 L756.31,517.00 L764.11,518.92 L771.90,520.89 L779.70,522.90 L787.50,524.95 L795.29,527.05 L803.09,529.19 L810.88,531.36 L818.68,533.58 L826.47,535.83 L834.27,538.11 L842.06,540.43 L849.86,542.78 L857.66,545.16 L865.45,547.57 L873.25,550.00 L881.04,552.46 L888.84,554.94 L896.63,557.44 L904.43,559.95 L912.23,562.48 L920.02,565.03 L927.82,567.59 L935.61,570.15 L943.41,572.73 L951.20,575.30 L959.00,577.88 L966.79,580.46 L974.59,583.03"/>
<path d="M514.65,510.22 L522.47,510.41 L530.30,510.64 L538.12,510.92 L545.94,511.24 L553.76,511.61 L561.59,512.02 L569.41,512.49 L577.23,513.01 L585.05,513.57 L592.88,514.19 L600.70,514.87 L608.52,515.60 L616.35,516.38 L624.17,517.21 L631.99,518.11 L639.81,519.06 L647.64,520.06 L655.46,521.12 L663.28,522.24 L671.10,523.41 L678.93,524.64 L686.75,525.92 L694.57,527.26 L702.40,528.65 L710.22,530.10 L718.04,531.60 L725.86,533.15 L733.69,534.76 L741.51,536.41 L749.33,538.11 L757.15,539.87 L764.98,541.66 L772.80,543.51 L780.62,545.40 L788.44,547.33 L796.27,549.30 L804.09,551.31 L811.91,553.36 L819.74,555.44 L827.56,557.55 L835.38,559.70 L843.20,561.87 L851.03,564.07 L858.85,566.30 L866.67,568.54 L874.49,570.80 L882.32,573.08 L890.14,575.37 L897.96,577.67 L905.79,579.98 L913.61,582.29 L921.43,584.60 L929.25,586.90 L937.08,589.20 L944.90,591.49 L952.72,593.76 L960.54,596.02 L968.37,598.25 L976.19,600.46"/>
<circle cx="976.19" cy="600.46" r="1.8" fill="#444444" stroke="none"/>
<path d="M514.65,535.01 L522.47,535.21 L530.30,535.46 L538.12,535.76 L545.94,536.10 L553.76,536.49 L561.59,536.93 L569.41,537.41 L577.23,537.95 L585.05,538.52 L592.88,539.15 L600.70,539.82 L608.52,540.53 L616.35,541.29 L624.17,542.09 L631.99,542.94 L639.81,543.83 L647.64,544.77 L655.46,545.75 L663.28,546.77 L671.10,547.84 L678.93,548.94 L686.75,550.09 L694.57,551.28 L702.40,552.50 L710.22,553.77 L718.04,555.08 L725.86,556.43 L733.69,557.81 L741.51,559.23 L749.33,560.69 L757.15,562.19 L764.98,563.72 L772.80,565.28 L780.62,566.88 L788.44,568.52 L796.27,570.19 L804.09,571.89 L811.91,573.62 L819.74,575.38 L827.56,577.18 L835.38,579.00 L843.20,580.85 L851.03,582.73 L858.85,584.64 L866.67,586.57 L874.49,588.53 L882.32,590.52 L890.14,592.53 L897.96,594.56 L905.79,596.61 L913.61,598.69 L921.43,600.78 L929.25,602.90 L937.08,605.03 L944.90,607.18 L952.72,609.35 L960.54,611.53 L968.37,613.73 L976.19,615.94"/>
<circle cx="976.19" cy="615.94" r="1.8" fill="#444444" stroke="none"/>
<path d="M514.65,562.30 L522.47,562.27 L530.30,562.32 L538.12,562.43 L545.94,562.61 L553.76,562.85 L561.59,563.15 L569.41,563.52 L577.23,563.94 L585.05,564.41 L592.88,564.94 L600.70,565.53 L608.52,566.16 L616.35,566.84 L624.17,567.56 L631.99,568.34 L639.81,569.15 L647.64,570.01 L655.46,570.91 L663.28,571.85 L671.10,572.82 L678.93,573.83 L686.75,574.88 L694.57,575.96 L702.40,577.07 L710.22,578.22 L718.04,579.39 L725.86,580.60 L733.69,581.84 L741.51,583.10 L749.33,584.39 L757.15,585.70 L764.98,587.04 L772.80,588.41 L780.62,589.80 L788.44,591.21 L796.27,592.65 L804.09,594.11 L811.91,595.59 L819.74,597.09 L827.56,598.62 L835.38,600.16 L843.20,601.73 L851.03,603.31 L858.85,604.92 L866.67,606.54 L874.49,608.19 L882.32,609.86 L890.14,611.55 L897.96,613.25 L905.79,614.98 L913.61,616.73 L921.43,618.50 L929.25,620.29 L937.08,622.11 L944.90,623.94 L952.72,625.80 L960.54,627.68 L968.37,629.59 L976.19,631.52"/>
<circle cx="976.19" cy="631.52" r="1.8" fill="#444444" stroke="none"/>
<path d="M514.65,588.55 L522.47,588.56 L530.30,588.63 L538.12,588.76 L545.94,588.94 L553.76,589.18 L561.59,589.46 L569.41,589.80 L577.23,590.18 L585.05,590.60 L592.88,591.07 L600.70,591.58 L608.52,592.14 L616.35,592.73 L624.17,593.36 L631.99,594.02 L639.81,594.72 L647.64,595.46 L655.46,596.23 L663.28,597.02 L671.10,597.85 L678.93,598.71 L686.75,599.60 L694.57,600.51 L702.40,601.45 L710.22,602.41 L718.04,603.40 L725.86,604.41 L733.69,605.44 L741.51,606.50 L749.33,607.57 L757.15,608.67 L764.98,609.79 L772.80,610.92 L780.62,612.08 L788.44,613.25 L796.27,614.44 L804.09,615.65 L811.91,616.88 L819.74,618.12 L827.56,619.38 L835.38,620.65 L843.20,621.95 L851.03,623.25 L858.85,624.58 L866.67,625.92 L874.49,627.27 L882.32,628.65 L890.14,630.04 L897.96,631.44 L905.79,632.86 L913.61,634.30 L921.43,635.76 L929.25,637.23 L937.08,638.73 L944.90,640.24 L952.72,641.77 L960.54,643.32 L968.37,644.89 L976.19,646.48"/>
<circle cx="976.19" cy="646.48" r="1.8" fill="#444444" stroke="none"/>
<path d="M514.65,615.78 L522.47,615.79 L530.30,615.85 L538.12,615.95 L545.94,616.11 L553.76,616.30 L561.59,616.54 L569.41,616.82 L577.23,617.13 L585.05,617.49 L592.88,617.88 L600.70,618.30 L608.52,618.76 L616.35,619.25 L624.17,619.77 L631.99,620.31 L639.81,620.89 L647.64,621.49 L655.46,622.12 L663.28,622.77 L671.10,623.45 L678.93,624.15 L686.75,624.87 L694.57,625.61 L702.40,626.37 L710.22,627.15 L718.04,627.95 L725.86,628.76 L733.69,629.59 L741.51,630.44 L749.33,631.31 L757.15,632.19 L764.98,633.09 L772.80,634.00 L780.62,634.92 L788.44,635.86 L796.27,636.82 L804.09,637.78 L811.91,638.76 L819.74,639.76 L827.56,640.77 L835.38,641.79 L843.20,642.82 L851.03,643.87 L858.85,644.94 L866.67,646.01 L874.49,647.10 L882.32,648.21 L890.14,649.33 L897.96,650.47 L905.79,651.62 L913.61,652.79 L921.43,653.97 L929.25,655.18 L937.08,656.40 L944.90,657.64 L952.72,658.90 L960.54,660.18 L968.37,661.48 L976.19,662.80"/>
<circle cx="976.19" cy="662.80" r="1.8" fill="#444444" stroke="none"/>
<path d="M514.65,643.71 L522.47,643.67 L530.30,643.67 L538.12,643.72 L545.94,643.80 L553.76,643.93 L561.59,644.09 L569.41,644.28 L577.23,644.51 L585.05,644.77 L592.88,645.05 L600.70,645.37 L608.52,645.70 L616.35,646.06 L624.17,646.45 L631.99,646.85 L639.81,647.28 L647.64,647.72 L655.46,648.17 L663.28,648.65 L671.10,649.14 L678.93,649.64 L686.75,650.15 L694.57,650.68 L702.40,651.22 L710.22,651.77 L718.04,652.33 L725.86,652.90 L733.69,653.48 L741.51,654.06 L749.33,654.66 L757.15,655.26 L764.98,655.87 L772.80,656.49 L780.62,657.12 L788.44,657.75 L796.27,658.39 L804.09,659.05 L811.91,659.71 L819.74,660.38 L827.56,661.06 L835.38,661.75 L843.20,662.45 L851.03,663.16 L858.85,663.88 L866.67,664.62 L874.49,665.37 L882.32,666.14 L890.14,666.92 L897.96,667.72 L905.79,668.54 L913.61,669.38 L921.43,670.24 L929.25,671.12 L937.08,672.03 L944.90,672.96 L952.72,673.92 L960.54,674.91 L968.37,675.93 L976.19,676.98"/>
<circle cx="976.19" cy="676.98" r="1.8" fill="#444444" stroke="none"/>
<path d="M514.65,669.04 L522.47,669.02 L530.30,669.02 L538.12,669.05 L545.94,669.09 L553.76,669.16 L561.59,669.24 L569.41,669.35 L577.23,669.48 L585.05,669.62 L592.88,669.79 L600.70,669.98 L608.52,670.18 L616.35,670.41 L624.17,670.65 L631.99,670.91 L639.81,671.19 L647.64,671.49 L655.46,671.80 L663.28,672.14 L671.10,672.49 L678.93,672.85 L686.75,673.24 L694.57,673.63 L702.40,674.05 L710.22,674.48 L718.04,674.92 L725.86,675.38 L733.69,675.86 L741.51,676.34 L749.33,676.84 L757.15,677.36 L764.98,677.88 L772.80,678.42 L780.62,678.97 L788.44,679.53 L796.27,680.11 L804.09,680.69 L811.91,681.28 L819.74,681.88 L827.56,682.50 L835.38,683.12 L843.20,683.74 L851.03,684.38 L858.85,685.02 L866.67,685.67 L874.49,686.32 L882.32,686.98 L890.14,687.65 L897.96,688.32 L905.79,688.99 L913.61,689.66 L921.43,690.34 L929.25,691.02 L937.08,691.70 L944.90,692.38 L952.72,693.06 L960.54,693.74 L968.37,694.42 L976.19,695.10"/>
<circle cx="976.19" cy="695.10" r="1.8" fill="#444444" stroke="none"/>
<path d="M514.65,694.97 L522.47,695.08 L530.30,695.18 L538.12,695.28 L545.94,695.37 L553.76,695.46 L561.59,695.55 L569.41,695.64 L577.23,695.72 L585.05,695.81 L592.88,695.90 L600.70,696.00 L608.52,696.10 L616.35,696.20 L624.17,696.31 L631.99,696.43 L639.81,696.56 L647.64,696.69 L655.46,696.83 L663.28,696.98 L671.10,697.14 L678.93,697.31 L686.75,697.49 L694.57,697.69 L702.40,697.89 L710.22,698.10 L718.04,698.33 L725.86,698.57 L733.69,698.82 L741.51,699.08 L749.33,699.36 L757.15,699.64 L764.98,699.94 L772.80,700.25 L780.62,700.57 L788.44,700.90 L796.27,701.25 L804.09,701.60 L811.91,701.96 L819.74,702.33 L827.56,702.72 L835.38,703.11 L843.20,703.50 L851.03,703.91 L858.85,704.32 L866.67,704.73 L874.49,705.15 L882.32,705.58 L890.14,706.01 L897.96,706.44 L905.79,706.87 L913.61,707.30 L921.43,707.72 L929.25,708.15 L937.08,708.57 L944.90,708.99 L952.72,709.40 L960.54,709.80 L968.37,710.19 L976.19,710.57"/>
<circle cx="976.19" cy="710.57" r="1.8" fill="#444444" stroke="none"/>
</g>
<g font-family="'Liberation Sans', sans-serif" stroke="#f3f3f3" stroke-width="0.15">
<text transform="translate(235.75,140.75) scale(1.0500,1)" font-size="15.6" letter-spacing="0.44" fill="#222222">–220</text>
<text transform="translate(232.50,191.50) scale(1.0500,1)" font-size="15.6" letter-spacing="0.28" fill="#222222">–200</text>
<text transform="translate(234.25,242.00) scale(1.0500,1)" font-size="15.6" letter-spacing="0.52" fill="#222222">–180</text>
<text transform="translate(234.25,294.25) scale(1.0500,1)" font-size="15.6" letter-spacing="0.36" fill="#222222">–160</text>
<text transform="translate(234.25,347.00) scale(1.0500,1)" font-size="15.6" letter-spacing="0.36" fill="#222222">–140</text>
<text transform="translate(234.25,400.00) scale(1.0500,1)" font-size="15.6" letter-spacing="0.44" fill="#222222">–120</text>
<text transform="translate(232.00,453.25) scale(1.0500,1)" font-size="15.6" letter-spacing="0.67" fill="#222222">–110</text>
<text transform="translate(238.25,481.50) scale(1.0500,1)" font-size="15.6" letter-spacing="0.62" fill="#222222">–90</text>
<text transform="translate(238.25,505.50) scale(1.0500,1)" font-size="15.6" letter-spacing="0.62" fill="#222222">–80</text>
<text transform="translate(238.25,531.75) scale(1.0500,1)" font-size="15.6" letter-spacing="0.62" fill="#222222">–70</text>
<text transform="translate(238.25,556.50) scale(1.0500,1)" font-size="15.6" letter-spacing="0.62" fill="#222222">–60</text>
<text transform="translate(242.50,583.75) scale(1.0500,1)" font-size="15.6" letter-spacing="0.38" fill="#222222">–50</text>
<text transform="translate(242.50,612.00) scale(1.0500,1)" font-size="15.6" letter-spacing="0.38" fill="#222222">–40</text>
<text transform="translate(240.00,638.25) scale(1.0500,1)" font-size="15.6" letter-spacing="0.62" fill="#222222">–30</text>
<text transform="translate(240.00,663.00) scale(1.0500,1)" font-size="15.6" letter-spacing="0.62" fill="#222222">–20</text>
<text transform="translate(240.00,689.50) scale(1.0500,1)" font-size="15.6" letter-spacing="0.62" fill="#222222">–10</text>
<text transform="translate(198.48,725.65) scale(1.0500,1)" font-size="15.6" fill="#222222">0</text>
<text transform="translate(188.81,674.72) scale(1.0500,1)" font-size="15.6" letter-spacing="0.55" fill="#222222">20</text>
<text transform="translate(188.81,623.79) scale(1.0500,1)" font-size="15.6" letter-spacing="0.55" fill="#222222">40</text>
<text transform="translate(188.81,572.86) scale(1.0500,1)" font-size="15.6" letter-spacing="0.55" fill="#222222">60</text>
<text transform="translate(188.81,521.93) scale(1.0500,1)" font-size="15.6" letter-spacing="0.55" fill="#222222">80</text>
<text transform="translate(179.15,471.00) scale(1.0500,1)" font-size="15.6" letter-spacing="0.55" fill="#222222">100</text>
<text transform="translate(179.15,420.07) scale(1.0500,1)" font-size="15.6" letter-spacing="0.55" fill="#222222">120</text>
<text transform="translate(179.15,369.14) scale(1.0500,1)" font-size="15.6" letter-spacing="0.55" fill="#222222">140</text>
<text transform="translate(179.15,318.21) scale(1.0500,1)" font-size="15.6" letter-spacing="0.55" fill="#222222">160</text>
<text transform="translate(179.15,267.28) scale(1.0500,1)" font-size="15.6" letter-spacing="0.55" fill="#222222">180</text>
<text transform="translate(179.15,216.35) scale(1.0500,1)" font-size="15.6" letter-spacing="0.55" fill="#222222">200</text>
<text transform="translate(179.15,165.42) scale(1.0500,1)" font-size="15.6" letter-spacing="0.55" fill="#222222">220</text>
<text transform="translate(179.15,114.49) scale(1.0500,1)" font-size="15.6" letter-spacing="0.55" fill="#222222">240</text>
<text transform="translate(109.70,207.00) scale(1.0500,1)" font-size="15.6" letter-spacing="0.55" fill="#222222">2000</text>
<text transform="translate(109.70,310.50) scale(1.0500,1)" font-size="15.6" letter-spacing="0.55" fill="#222222">1600</text>
<text transform="translate(109.70,415.00) scale(1.0500,1)" font-size="15.6" letter-spacing="0.55" fill="#222222">1200</text>
<text transform="translate(119.45,518.00) scale(1.0500,1)" font-size="15.6" letter-spacing="0.55" fill="#222222">800</text>
<text transform="translate(119.45,623.50) scale(1.0500,1)" font-size="15.6" letter-spacing="0.55" fill="#222222">400</text>
<text transform="translate(138.78,727.25) scale(1.0500,1)" font-size="15.6" fill="#222222">0</text>
<text transform="translate(220.57,751.40) scale(1.0500,1)" font-size="15.4" fill="#222222">0</text>
<text transform="translate(278.10,751.40) scale(1.0500,1)" font-size="15.4" fill="#222222">1</text>
<text transform="translate(336.07,751.40) scale(1.0500,1)" font-size="15.4" fill="#222222">2</text>
<text transform="translate(393.80,751.40) scale(1.0500,1)" font-size="15.4" fill="#222222">3</text>
<text transform="translate(451.61,751.40) scale(1.0500,1)" font-size="15.4" fill="#222222">4</text>
<text transform="translate(509.26,751.40) scale(1.0500,1)" font-size="15.4" fill="#222222">5</text>
<text transform="translate(566.91,751.40) scale(1.0500,1)" font-size="15.4" fill="#222222">6</text>
<text transform="translate(624.72,751.40) scale(1.0500,1)" font-size="15.4" fill="#222222">7</text>
<text transform="translate(682.41,751.40) scale(1.0500,1)" font-size="15.4" fill="#222222">8</text>
<text transform="translate(740.18,751.40) scale(1.0500,1)" font-size="15.4" fill="#222222">9</text>
<text transform="translate(792.81,751.40) scale(1.0500,1)" font-size="15.4" letter-spacing="0.55" fill="#222222">10</text>
<text transform="translate(851.23,751.40) scale(1.0500,1)" font-size="15.4" letter-spacing="0.55" fill="#222222">11</text>
<text transform="translate(908.39,751.40) scale(1.0500,1)" font-size="15.4" letter-spacing="0.55" fill="#222222">12</text>
<text transform="translate(958.46,753.50) scale(1.0849,1)" font-size="19.2" fill="#222222">Q</text>
<text transform="translate(979.04,753.50) scale(1.0500,1)" font-size="19.2" letter-spacing="1.40" fill="#222222">[m</text>
<text transform="translate(1002.98,743.90) scale(1.2035,1)" font-size="9.984" fill="#222222">3</text>
<text transform="translate(1008.81,753.50) scale(1.0500,1)" font-size="19.2" letter-spacing="0.25" fill="#222222">/h]</text>
<text transform="translate(219.52,47.70) scale(1.2097,1)" font-size="18.1" fill="#111" stroke="#111" stroke-width="0.2">5</text>
<text transform="translate(341.87,47.70) scale(1.2000,1)" font-size="18.1" letter-spacing="0.40" fill="#111" stroke="#111" stroke-width="0.2">10</text>
<text transform="translate(473.32,47.70) scale(1.1966,1)" font-size="18.1" fill="#111" stroke="#111" stroke-width="0.2">20</text>
<text transform="translate(605.54,47.70) scale(1.1850,1)" font-size="18.1" fill="#111" stroke="#111" stroke-width="0.2">30</text>
<text transform="translate(737.48,47.70) scale(1.1626,1)" font-size="18.1" fill="#111" stroke="#111" stroke-width="0.2">40</text>
<text transform="translate(869.04,47.70) scale(1.1850,1)" font-size="18.1" fill="#111" stroke="#111" stroke-width="0.2">50</text>
<text transform="translate(923.83,47.40) scale(1.1557,1)" font-size="16.8" fill="#222222">Q</text>
<text transform="translate(940.24,44.60) scale(0.9326,1)" font-size="19.3" fill="#222222">[</text>
<text transform="translate(947.28,47.40) scale(1.0500,1)" font-size="16.8" letter-spacing="1.26" fill="#222222">US.GPM</text>
<text transform="translate(1025.11,44.60) scale(0.9326,1)" font-size="19.3" fill="#222222">]</text>
<text transform="translate(1040.29,54.80) scale(1.1980,1)" font-size="15.8" fill="#222222">H</text>
<text transform="translate(1040.53,74.20) scale(1.0500,1)" font-size="14.5" letter-spacing="1.66" fill="#222222">[ft]</text>
<text transform="translate(126.07,69.20) scale(1.0208,1)" font-size="20.6" fill="#222222">P</text>
<text transform="translate(108.52,90.10) scale(1.0500,1)" font-size="20.2" letter-spacing="0.22" fill="#222222">[kPa]</text>
<text transform="translate(190.06,69.20) scale(1.1182,1)" font-size="20.6" fill="#222222">H</text>
<text transform="translate(182.02,90.10) scale(1.0500,1)" font-size="20.2" letter-spacing="1.52" fill="#222222">[m]</text>
<text transform="translate(858.41,104.20) scale(1.0500,1)" font-size="16.9" letter-spacing="0.97" fill="#222222">CDL10/CDLF10</text>
<text transform="translate(1053.32,647.40) scale(1.0700,1)" font-size="18.4" letter-spacing="1.82" fill="#111" stroke="#111" stroke-width="0.25">100</text>
<text transform="translate(1053.82,572.20) scale(1.0700,1)" font-size="18.4" letter-spacing="1.59" fill="#111" stroke="#111" stroke-width="0.25">200</text>
<text transform="translate(1054.01,497.00) scale(1.0700,1)" font-size="18.4" letter-spacing="1.49" fill="#111" stroke="#111" stroke-width="0.25">300</text>
<text transform="translate(1054.41,421.80) scale(1.0700,1)" font-size="18.4" letter-spacing="1.31" fill="#111" stroke="#111" stroke-width="0.25">400</text>
<text transform="translate(1054.01,346.60) scale(1.0700,1)" font-size="18.4" letter-spacing="1.49" fill="#111" stroke="#111" stroke-width="0.25">500</text>
<text transform="translate(1053.82,271.40) scale(1.0700,1)" font-size="18.4" letter-spacing="1.59" fill="#111" stroke="#111" stroke-width="0.25">600</text>
<text transform="translate(1053.82,196.20) scale(1.0700,1)" font-size="18.4" letter-spacing="1.59" fill="#111" stroke="#111" stroke-width="0.25">700</text>
<text transform="translate(1054.01,722.60) scale(1.0700,1)" font-size="18.4" letter-spacing="1.45" fill="#111" stroke="#111" stroke-width="0.25">0.0</text>
</g>
</g>
<g id="mid-chart">
<g fill="none">
<line x1="164.25" y1="826.25" x2="164.25" y2="1023.75" stroke="#666666" stroke-width="1.4"/>
<line x1="228.47" y1="826.25" x2="228.47" y2="1023.75" stroke="#666666" stroke-width="1.4"/>
<line x1="292.69" y1="826.25" x2="292.69" y2="1023.75" stroke="#666666" stroke-width="1.4"/>
<line x1="356.91" y1="826.25" x2="356.91" y2="1023.75" stroke="#666666" stroke-width="1.4"/>
<line x1="421.13" y1="826.25" x2="421.13" y2="1023.75" stroke="#666666" stroke-width="1.4"/>
<line x1="485.35" y1="826.25" x2="485.35" y2="1023.75" stroke="#666666" stroke-width="1.4"/>
<line x1="549.57" y1="826.25" x2="549.57" y2="1023.75" stroke="#666666" stroke-width="1.4"/>
<line x1="613.79" y1="826.25" x2="613.79" y2="1023.75" stroke="#666666" stroke-width="1.4"/>
<line x1="678.01" y1="826.25" x2="678.01" y2="1023.75" stroke="#666666" stroke-width="1.4"/>
<line x1="742.23" y1="826.25" x2="742.23" y2="1023.75" stroke="#666666" stroke-width="1.4"/>
<line x1="806.45" y1="826.25" x2="806.45" y2="1023.75" stroke="#666666" stroke-width="1.4"/>
<line x1="870.67" y1="826.25" x2="870.67" y2="1023.75" stroke="#666666" stroke-width="1.4"/>
<line x1="934.89" y1="826.25" x2="934.89" y2="1023.75" stroke="#666666" stroke-width="1.4"/>
<line x1="999.11" y1="826.25" x2="999.11" y2="1023.75" stroke="#666666" stroke-width="1.4"/>
<line x1="1063.33" y1="826.25" x2="1063.33" y2="1023.75" stroke="#666666" stroke-width="1.4"/>
<line x1="151.25" y1="1010.50" x2="1076.25" y2="1010.50" stroke="#666666" stroke-width="1.4"/>
<line x1="151.25" y1="973.62" x2="1076.25" y2="973.62" stroke="#666666" stroke-width="1.4"/>
<line x1="151.25" y1="936.75" x2="1076.25" y2="936.75" stroke="#666666" stroke-width="1.4"/>
<line x1="151.25" y1="899.88" x2="1076.25" y2="899.88" stroke="#666666" stroke-width="1.4"/>
<line x1="151.25" y1="863.00" x2="1076.25" y2="863.00" stroke="#666666" stroke-width="1.4"/>
<line x1="151.80" y1="826.25" x2="1076.25" y2="826.25" stroke="#666666" stroke-width="1.4"/>
<line x1="157.50" y1="992.06" x2="164.25" y2="992.06" stroke="#666666" stroke-width="1.2"/>
<line x1="1063.33" y1="992.06" x2="1070.00" y2="992.06" stroke="#666666" stroke-width="1.2"/>
<line x1="157.50" y1="955.19" x2="164.25" y2="955.19" stroke="#666666" stroke-width="1.2"/>
<line x1="1063.33" y1="955.19" x2="1070.00" y2="955.19" stroke="#666666" stroke-width="1.2"/>
<line x1="157.50" y1="918.31" x2="164.25" y2="918.31" stroke="#666666" stroke-width="1.2"/>
<line x1="1063.33" y1="918.31" x2="1070.00" y2="918.31" stroke="#666666" stroke-width="1.2"/>
<line x1="157.50" y1="881.44" x2="164.25" y2="881.44" stroke="#666666" stroke-width="1.2"/>
<line x1="1063.33" y1="881.44" x2="1070.00" y2="881.44" stroke="#666666" stroke-width="1.2"/>
<line x1="157.50" y1="844.56" x2="164.25" y2="844.56" stroke="#666666" stroke-width="1.2"/>
<line x1="1063.33" y1="844.56" x2="1070.00" y2="844.56" stroke="#666666" stroke-width="1.2"/>
<line x1="196.36" y1="1010.50" x2="196.36" y2="1016.40" stroke="#666666" stroke-width="1.2"/>
<line x1="260.58" y1="1010.50" x2="260.58" y2="1016.40" stroke="#666666" stroke-width="1.2"/>
<line x1="324.80" y1="1010.50" x2="324.80" y2="1016.40" stroke="#666666" stroke-width="1.2"/>
<line x1="389.02" y1="1010.50" x2="389.02" y2="1016.40" stroke="#666666" stroke-width="1.2"/>
<line x1="453.24" y1="1010.50" x2="453.24" y2="1016.40" stroke="#666666" stroke-width="1.2"/>
<line x1="517.46" y1="1010.50" x2="517.46" y2="1016.40" stroke="#666666" stroke-width="1.2"/>
<line x1="581.68" y1="1010.50" x2="581.68" y2="1016.40" stroke="#666666" stroke-width="1.2"/>
<line x1="645.90" y1="1010.50" x2="645.90" y2="1016.40" stroke="#666666" stroke-width="1.2"/>
<line x1="710.12" y1="1010.50" x2="710.12" y2="1016.40" stroke="#666666" stroke-width="1.2"/>
<line x1="774.34" y1="1010.50" x2="774.34" y2="1016.40" stroke="#666666" stroke-width="1.2"/>
<line x1="838.56" y1="1010.50" x2="838.56" y2="1016.40" stroke="#666666" stroke-width="1.2"/>
<line x1="902.78" y1="1010.50" x2="902.78" y2="1016.40" stroke="#666666" stroke-width="1.2"/>
<line x1="967.00" y1="1010.50" x2="967.00" y2="1016.40" stroke="#666666" stroke-width="1.2"/>
<line x1="1031.22" y1="1010.50" x2="1031.22" y2="1016.40" stroke="#666666" stroke-width="1.2"/>
</g>
<path d="M164.25,1010.30 L168.33,1007.25 L172.40,1004.22 L176.48,1001.24 L180.56,998.32 L184.64,995.49 L188.71,992.76 L192.79,990.16 L196.87,987.70 L200.94,985.39 L205.02,983.23 L209.10,981.18 L213.18,979.25 L217.25,977.40 L221.33,975.61 L225.41,973.84 L229.49,972.05 L233.56,970.24 L237.64,968.40 L241.72,966.55 L245.79,964.71 L249.87,962.89 L253.95,961.10 L258.03,959.36 L262.10,957.68 L266.18,956.06 L270.26,954.50 L274.33,952.99 L278.41,951.52 L282.49,950.08 L286.57,948.68 L290.64,947.29 L294.72,945.92 L298.80,944.55 L302.88,943.20 L306.95,941.87 L311.03,940.57 L315.11,939.29 L319.18,938.05 L323.26,936.84 L327.34,935.68 L331.42,934.56 L335.49,933.47 L339.57,932.42 L343.65,931.40 L347.72,930.39 L351.80,929.41 L355.88,928.44 L359.96,927.49 L364.03,926.54 L368.11,925.60 L372.19,924.68 L376.27,923.76 L380.34,922.87 L384.42,921.99 L388.50,921.13 L392.57,920.28 L396.65,919.46 L400.73,918.65 L404.81,917.87 L408.88,917.12 L412.96,916.39 L417.04,915.68 L421.11,915.00 L425.19,914.35 L429.27,913.73 L433.35,913.13 L437.42,912.55 L441.50,911.99 L445.58,911.45 L449.66,910.92 L453.73,910.40 L457.81,909.89 L461.89,909.39 L465.96,908.89 L470.04,908.39 L474.12,907.90 L478.20,907.40 L482.27,906.89 L486.35,906.37" fill="none" stroke="#454545" stroke-width="1.5"/>
<path d="M485.85,906.44 L492.35,905.60 L498.84,904.74 L505.34,903.86 L511.84,902.98 L518.33,902.10 L524.83,901.22 L531.33,900.35 L537.83,899.49 L544.32,898.66 L550.82,897.85 L557.32,897.07 L563.81,896.32 L570.31,895.60 L576.81,894.90 L583.30,894.22 L589.80,893.56 L596.30,892.92 L602.80,892.29 L609.29,891.67 L615.79,891.06 L622.29,890.47 L628.78,889.88 L635.28,889.31 L641.78,888.76 L648.27,888.24 L654.77,887.74 L661.27,887.28 L667.76,886.85 L674.26,886.46 L680.76,886.11 L687.26,885.80 L693.75,885.54 L700.25,885.30 L706.75,885.10 L713.24,884.91 L719.74,884.75 L726.24,884.60 L732.73,884.45 L739.23,884.31 L745.73,884.17 L752.23,884.03 L758.72,883.89 L765.22,883.75 L771.72,883.63 L778.21,883.51 L784.71,883.42 L791.21,883.34 L797.70,883.28 L804.20,883.25 L810.70,883.25 L817.20,883.29 L823.69,883.35 L830.19,883.44 L836.69,883.55 L843.18,883.69 L849.68,883.85 L856.18,884.03 L862.67,884.23 L869.17,884.45 L875.67,884.68 L882.16,884.93 L888.66,885.19 L895.16,885.47 L901.66,885.76 L908.15,886.07 L914.65,886.39 L921.15,886.73 L927.64,887.09 L934.14,887.46 L940.64,887.84 L947.13,888.24 L953.63,888.65 L960.13,889.07 L966.63,889.51 L973.12,889.95 L979.62,890.39 L986.12,890.84 L992.61,891.29 L999.11,891.75" fill="none" stroke="#444444" stroke-width="3.7"/>
<path d="M164.25,973.75 L168.33,973.12 L172.40,972.50 L176.48,971.87 L180.56,971.25 L184.64,970.62 L188.71,969.99 L192.79,969.36 L196.87,968.73 L200.94,968.09 L205.02,967.46 L209.10,966.82 L213.18,966.18 L217.25,965.54 L221.33,964.89 L225.41,964.24 L229.49,963.59 L233.56,962.93 L237.64,962.27 L241.72,961.61 L245.79,960.94 L249.87,960.28 L253.95,959.61 L258.03,958.94 L262.10,958.27 L266.18,957.60 L270.26,956.93 L274.33,956.26 L278.41,955.59 L282.49,954.92 L286.57,954.25 L290.64,953.58 L294.72,952.92 L298.80,952.26 L302.88,951.60 L306.95,950.94 L311.03,950.28 L315.11,949.63 L319.18,948.98 L323.26,948.32 L327.34,947.68 L331.42,947.03 L335.49,946.38 L339.57,945.73 L343.65,945.09 L347.72,944.45 L351.80,943.80 L355.88,943.16 L359.96,942.52 L364.03,941.88 L368.11,941.24 L372.19,940.60 L376.27,939.95 L380.34,939.30 L384.42,938.65 L388.50,938.00 L392.57,937.34 L396.65,936.67 L400.73,936.00 L404.81,935.31 L408.88,934.63 L412.96,933.93 L417.04,933.22 L421.11,932.50 L425.19,931.77 L429.27,931.04 L433.35,930.29 L437.42,929.54 L441.50,928.79 L445.58,928.03 L449.66,927.28 L453.73,926.53 L457.81,925.78 L461.89,925.04 L465.96,924.31 L470.04,923.58 L474.12,922.87 L478.20,922.18 L482.27,921.50 L486.35,920.84" fill="none" stroke="#454545" stroke-width="1.5"/>
<path d="M485.85,920.92 L492.35,919.90 L498.84,918.93 L505.34,918.00 L511.84,917.11 L518.33,916.25 L524.83,915.43 L531.33,914.63 L537.83,913.86 L544.32,913.10 L550.82,912.36 L557.32,911.63 L563.81,910.92 L570.31,910.21 L576.81,909.52 L583.30,908.83 L589.80,908.16 L596.30,907.50 L602.80,906.84 L609.29,906.19 L615.79,905.55 L622.29,904.92 L628.78,904.30 L635.28,903.69 L641.78,903.09 L648.27,902.50 L654.77,901.92 L661.27,901.36 L667.76,900.82 L674.26,900.29 L680.76,899.79 L687.26,899.30 L693.75,898.83 L700.25,898.38 L706.75,897.94 L713.24,897.51 L719.74,897.10 L726.24,896.70 L732.73,896.31 L739.23,895.92 L745.73,895.55 L752.23,895.18 L758.72,894.82 L765.22,894.47 L771.72,894.13 L778.21,893.80 L784.71,893.48 L791.21,893.17 L797.70,892.88 L804.20,892.59 L810.70,892.33 L817.20,892.07 L823.69,891.84 L830.19,891.61 L836.69,891.40 L843.18,891.20 L849.68,891.02 L856.18,890.84 L862.67,890.68 L869.17,890.53 L875.67,890.40 L882.16,890.27 L888.66,890.16 L895.16,890.07 L901.66,890.00 L908.15,889.95 L914.65,889.92 L921.15,889.91 L927.64,889.94 L934.14,889.99 L940.64,890.08 L947.13,890.19 L953.63,890.33 L960.13,890.49 L966.63,890.67 L973.12,890.87 L979.62,891.08 L986.12,891.30 L992.61,891.52 L999.11,891.75" fill="none" stroke="#444444" stroke-width="3.7"/>
<g font-family="'Liberation Sans', sans-serif" stroke="#ffffff" stroke-width="0.15">
<text transform="translate(118.31,1016.80) scale(1.0500,1)" font-size="16.4" letter-spacing="0.84" fill="#222222">0.0</text>
<text transform="translate(118.31,979.80) scale(1.0500,1)" font-size="16.4" letter-spacing="0.92" fill="#222222">0.1</text>
<text transform="translate(118.31,942.80) scale(1.0500,1)" font-size="16.4" letter-spacing="0.96" fill="#222222">0.2</text>
<text transform="translate(118.31,905.40) scale(1.0500,1)" font-size="16.4" letter-spacing="0.88" fill="#222222">0.3</text>
<text transform="translate(118.31,866.80) scale(1.0500,1)" font-size="16.4" letter-spacing="0.80" fill="#222222">0.4</text>
<text transform="translate(1084.09,1016.00) scale(1.0800,1)" font-size="16.5" fill="#222222">0</text>
<text transform="translate(1083.91,979.12) scale(1.0800,1)" font-size="16.5" letter-spacing="0.40" fill="#222222">20</text>
<text transform="translate(1084.44,942.25) scale(1.0800,1)" font-size="16.5" letter-spacing="0.40" fill="#222222">40</text>
<text transform="translate(1083.91,905.38) scale(1.0800,1)" font-size="16.5" letter-spacing="0.40" fill="#222222">60</text>
<text transform="translate(1084.00,868.50) scale(1.0800,1)" font-size="16.5" letter-spacing="0.40" fill="#222222">80</text>
<text transform="translate(159.83,1044.50) scale(1.0500,1)" font-size="16.4" fill="#222222">0</text>
<text transform="translate(223.83,1044.50) scale(1.0500,1)" font-size="16.4" fill="#222222">1</text>
<text transform="translate(288.31,1044.50) scale(1.0500,1)" font-size="16.4" fill="#222222">2</text>
<text transform="translate(352.53,1044.50) scale(1.0500,1)" font-size="16.4" fill="#222222">3</text>
<text transform="translate(416.84,1044.50) scale(1.0500,1)" font-size="16.4" fill="#222222">4</text>
<text transform="translate(480.97,1044.50) scale(1.0500,1)" font-size="16.4" fill="#222222">5</text>
<text transform="translate(545.11,1044.50) scale(1.0500,1)" font-size="16.4" fill="#222222">6</text>
<text transform="translate(609.41,1044.50) scale(1.0500,1)" font-size="16.4" fill="#222222">7</text>
<text transform="translate(673.59,1044.50) scale(1.0500,1)" font-size="16.4" fill="#222222">8</text>
<text transform="translate(737.85,1044.50) scale(1.0500,1)" font-size="16.4" fill="#222222">9</text>
<text transform="translate(796.63,1044.50) scale(1.0500,1)" font-size="16.4" letter-spacing="0.60" fill="#222222">10</text>
<text transform="translate(861.59,1044.50) scale(1.0500,1)" font-size="16.4" letter-spacing="0.60" fill="#222222">11</text>
<text transform="translate(925.20,1044.50) scale(1.0500,1)" font-size="16.4" letter-spacing="0.60" fill="#222222">12</text>
<text transform="translate(978.95,1048.20) scale(1.1123,1)" font-size="21.0" fill="#222222">Q</text>
<text transform="translate(1002.06,1048.20) scale(1.0500,1)" font-size="21.0" letter-spacing="2.09" fill="#222222">[m</text>
<text transform="translate(1028.86,1037.70) scale(1.2339,1)" font-size="10.92" fill="#222222">3</text>
<text transform="translate(1035.40,1048.20) scale(1.0500,1)" font-size="21.0" letter-spacing="0.56" fill="#222222">/h]</text>
<text transform="translate(114.96,823.20) scale(0.9883,1)" font-size="22.0" fill="#222222">P2</text>
<text transform="translate(104.71,848.70) scale(1.0500,1)" font-size="21.6" letter-spacing="0.74" fill="#222222">[kW]</text>
<text transform="translate(1081.29,823.60) scale(0.9788,1)" font-size="21.8" fill="#222222">Eta</text>
<text transform="translate(1080.26,849.30) scale(1.0500,1)" font-size="21.0" letter-spacing="1.59" fill="#222222">[%]</text>
<text transform="translate(965.54,882.00) scale(1.0403,1)" font-size="17.6" fill="#222222">Eta</text>
<text transform="translate(968.38,913.00) scale(1.0294,1)" font-size="17.2" fill="#222222">P2</text>
</g>
</g>
<g id="bottom-chart">
<g fill="none">
<line x1="164.25" y1="1072.25" x2="164.25" y2="1269.50" stroke="#666666" stroke-width="1.4"/>
<line x1="228.47" y1="1072.25" x2="228.47" y2="1269.50" stroke="#666666" stroke-width="1.4"/>
<line x1="292.69" y1="1072.25" x2="292.69" y2="1269.50" stroke="#666666" stroke-width="1.4"/>
<line x1="356.91" y1="1072.25" x2="356.91" y2="1269.50" stroke="#666666" stroke-width="1.4"/>
<line x1="421.13" y1="1072.25" x2="421.13" y2="1269.50" stroke="#666666" stroke-width="1.4"/>
<line x1="485.35" y1="1072.25" x2="485.35" y2="1269.50" stroke="#666666" stroke-width="1.4"/>
<line x1="549.57" y1="1072.25" x2="549.57" y2="1269.50" stroke="#666666" stroke-width="1.4"/>
<line x1="613.79" y1="1072.25" x2="613.79" y2="1269.50" stroke="#666666" stroke-width="1.4"/>
<line x1="678.01" y1="1072.25" x2="678.01" y2="1269.50" stroke="#666666" stroke-width="1.4"/>
<line x1="742.23" y1="1072.25" x2="742.23" y2="1269.50" stroke="#666666" stroke-width="1.4"/>
<line x1="806.45" y1="1072.25" x2="806.45" y2="1269.50" stroke="#666666" stroke-width="1.4"/>
<line x1="870.67" y1="1072.25" x2="870.67" y2="1269.50" stroke="#666666" stroke-width="1.4"/>
<line x1="934.89" y1="1072.25" x2="934.89" y2="1269.50" stroke="#666666" stroke-width="1.4"/>
<line x1="999.11" y1="1072.25" x2="999.11" y2="1269.50" stroke="#666666" stroke-width="1.4"/>
<line x1="1063.33" y1="1072.25" x2="1063.33" y2="1269.50" stroke="#666666" stroke-width="1.4"/>
<line x1="151.25" y1="1256.75" x2="1076.25" y2="1256.75" stroke="#666666" stroke-width="1.4"/>
<line x1="151.25" y1="1210.58" x2="1076.25" y2="1210.58" stroke="#666666" stroke-width="1.4"/>
<line x1="151.25" y1="1164.42" x2="1076.25" y2="1164.42" stroke="#666666" stroke-width="1.4"/>
<line x1="151.25" y1="1118.25" x2="1076.25" y2="1118.25" stroke="#666666" stroke-width="1.4"/>
<line x1="151.80" y1="1072.25" x2="1076.25" y2="1072.25" stroke="#666666" stroke-width="1.4"/>
<line x1="157.50" y1="1233.67" x2="164.25" y2="1233.67" stroke="#666666" stroke-width="1.2"/>
<line x1="157.50" y1="1187.50" x2="164.25" y2="1187.50" stroke="#666666" stroke-width="1.2"/>
<line x1="157.50" y1="1141.33" x2="164.25" y2="1141.33" stroke="#666666" stroke-width="1.2"/>
<line x1="157.50" y1="1095.17" x2="164.25" y2="1095.17" stroke="#666666" stroke-width="1.2"/>
<line x1="196.36" y1="1256.75" x2="196.36" y2="1262.50" stroke="#666666" stroke-width="1.2"/>
<line x1="260.58" y1="1256.75" x2="260.58" y2="1262.50" stroke="#666666" stroke-width="1.2"/>
<line x1="324.80" y1="1256.75" x2="324.80" y2="1262.50" stroke="#666666" stroke-width="1.2"/>
<line x1="389.02" y1="1256.75" x2="389.02" y2="1262.50" stroke="#666666" stroke-width="1.2"/>
<line x1="453.24" y1="1256.75" x2="453.24" y2="1262.50" stroke="#666666" stroke-width="1.2"/>
<line x1="517.46" y1="1256.75" x2="517.46" y2="1262.50" stroke="#666666" stroke-width="1.2"/>
<line x1="581.68" y1="1256.75" x2="581.68" y2="1262.50" stroke="#666666" stroke-width="1.2"/>
<line x1="645.90" y1="1256.75" x2="645.90" y2="1262.50" stroke="#666666" stroke-width="1.2"/>
<line x1="710.12" y1="1256.75" x2="710.12" y2="1262.50" stroke="#666666" stroke-width="1.2"/>
<line x1="774.34" y1="1256.75" x2="774.34" y2="1262.50" stroke="#666666" stroke-width="1.2"/>
<line x1="838.56" y1="1256.75" x2="838.56" y2="1262.50" stroke="#666666" stroke-width="1.2"/>
<line x1="902.78" y1="1256.75" x2="902.78" y2="1262.50" stroke="#666666" stroke-width="1.2"/>
<line x1="967.00" y1="1256.75" x2="967.00" y2="1262.50" stroke="#666666" stroke-width="1.2"/>
<line x1="1031.22" y1="1256.75" x2="1031.22" y2="1262.50" stroke="#666666" stroke-width="1.2"/>
</g>
<rect x="278.5" y="1120" width="30" height="15.6" fill="#ffffff"/>
<rect x="266" y="1217.2" width="52" height="18.2" fill="#ffffff"/>
<path d="M157.5,1141.25 L486.35,1140.8" fill="none" stroke="#454545" stroke-width="1.35"/>
<path d="M485.85,1140.82 L494.55,1141.07 L503.25,1141.33 L511.95,1141.60 L520.65,1141.89 L529.35,1142.19 L538.05,1142.51 L546.75,1142.85 L555.44,1143.20 L564.14,1143.56 L572.84,1143.95 L581.54,1144.35 L590.24,1144.76 L598.94,1145.20 L607.64,1145.65 L616.34,1146.12 L625.04,1146.61 L633.74,1147.12 L642.44,1147.65 L651.14,1148.20 L659.84,1148.77 L668.54,1149.36 L677.24,1149.97 L685.93,1150.60 L694.63,1151.25 L703.33,1151.92 L712.03,1152.62 L720.73,1153.34 L729.43,1154.08 L738.13,1154.84 L746.83,1155.63 L755.53,1156.44 L764.23,1157.28 L772.93,1158.13 L781.63,1159.02 L790.33,1159.93 L799.03,1160.87 L807.72,1161.83 L816.42,1162.81 L825.12,1163.83 L833.82,1164.87 L842.52,1165.94 L851.22,1167.03 L859.92,1168.16 L868.62,1169.31 L877.32,1170.49 L886.02,1171.70 L894.72,1172.94 L903.42,1174.21 L912.12,1175.50 L920.82,1176.83 L929.52,1178.19 L938.21,1179.58 L946.91,1181.00 L955.61,1182.46 L964.31,1183.94 L973.01,1185.46 L981.71,1187.01 L990.41,1188.59 L999.11,1190.21" fill="none" stroke="#444444" stroke-width="3.7"/>
<path d="M164.25,1242.50 L169.69,1242.87 L175.13,1243.18 L180.58,1243.37 L186.02,1243.39 L191.46,1243.34 L196.90,1243.24 L202.35,1243.11 L207.79,1242.95 L213.23,1242.77 L218.67,1242.58 L224.12,1242.39 L229.56,1242.22 L235.00,1242.03 L240.44,1241.83 L245.89,1241.61 L251.33,1241.39 L256.77,1241.15 L262.21,1240.91 L267.66,1240.66 L273.10,1240.40 L278.54,1240.15 L283.98,1239.90 L289.42,1239.65 L294.87,1239.40 L300.31,1239.15 L305.75,1238.90 L311.19,1238.65 L316.64,1238.39 L322.08,1238.13 L327.52,1237.87 L332.96,1237.61 L338.41,1237.35 L343.85,1237.10 L349.29,1236.85 L354.73,1236.60 L360.18,1236.36 L365.62,1236.12 L371.06,1235.89 L376.50,1235.67 L381.94,1235.45 L387.39,1235.23 L392.83,1235.01 L398.27,1234.78 L403.71,1234.55 L409.16,1234.31 L414.60,1234.06 L420.04,1233.80 L425.48,1233.53 L430.93,1233.25 L436.37,1232.96 L441.81,1232.66 L447.25,1232.36 L452.70,1232.04 L458.14,1231.72 L463.58,1231.39 L469.02,1231.05 L474.47,1230.71 L479.91,1230.36 L485.35,1230.00" fill="none" stroke="#454545" stroke-width="1.35"/>
<path d="M485.85,1229.94 L494.55,1229.90 L503.25,1229.83 L511.95,1229.72 L520.65,1229.58 L529.35,1229.39 L538.05,1229.17 L546.75,1228.92 L555.44,1228.62 L564.14,1228.30 L572.84,1227.93 L581.54,1227.53 L590.24,1227.10 L598.94,1226.63 L607.64,1226.13 L616.34,1225.59 L625.04,1225.02 L633.74,1224.41 L642.44,1223.77 L651.14,1223.09 L659.84,1222.39 L668.54,1221.65 L677.24,1220.87 L685.93,1220.07 L694.63,1219.23 L703.33,1218.36 L712.03,1217.46 L720.73,1216.52 L729.43,1215.55 L738.13,1214.56 L746.83,1213.53 L755.53,1212.47 L764.23,1211.38 L772.93,1210.26 L781.63,1209.11 L790.33,1207.93 L799.03,1206.72 L807.72,1205.48 L816.42,1204.21 L825.12,1202.91 L833.82,1201.58 L842.52,1200.22 L851.22,1198.84 L859.92,1197.43 L868.62,1195.99 L877.32,1194.52 L886.02,1193.02 L894.72,1191.50 L903.42,1189.95 L912.12,1188.37 L920.82,1186.77 L929.52,1185.14 L938.21,1183.49 L946.91,1181.80 L955.61,1180.10 L964.31,1178.36 L973.01,1176.61 L981.71,1174.82 L990.41,1173.01 L999.11,1171.18" fill="none" stroke="#444444" stroke-width="3.7"/>
<g font-family="'Liberation Sans', sans-serif" stroke="#ffffff" stroke-width="0.15">
<text transform="translate(133.45,1262.15) scale(1.1000,1)" font-size="16" fill="#222222">0</text>
<text transform="translate(133.36,1215.98) scale(1.1000,1)" font-size="16" fill="#222222">4</text>
<text transform="translate(133.54,1169.82) scale(1.1000,1)" font-size="16" fill="#222222">8</text>
<text transform="translate(128.40,1123.65) scale(1.1000,1)" font-size="16" letter-spacing="0.40" fill="#222222">12</text>
<text transform="translate(1082.09,1262.25) scale(1.0800,1)" font-size="16.5" fill="#222222">0</text>
<text transform="translate(1081.91,1216.08) scale(1.0800,1)" font-size="16.5" fill="#222222">2</text>
<text transform="translate(1082.44,1169.92) scale(1.0800,1)" font-size="16.5" fill="#222222">4</text>
<text transform="translate(1081.91,1123.75) scale(1.0800,1)" font-size="16.5" fill="#222222">6</text>
<text transform="translate(159.83,1289.00) scale(1.0500,1)" font-size="16.4" fill="#222222">0</text>
<text transform="translate(223.83,1289.00) scale(1.0500,1)" font-size="16.4" fill="#222222">1</text>
<text transform="translate(288.31,1289.00) scale(1.0500,1)" font-size="16.4" fill="#222222">2</text>
<text transform="translate(352.53,1289.00) scale(1.0500,1)" font-size="16.4" fill="#222222">3</text>
<text transform="translate(416.84,1289.00) scale(1.0500,1)" font-size="16.4" fill="#222222">4</text>
<text transform="translate(480.97,1289.00) scale(1.0500,1)" font-size="16.4" fill="#222222">5</text>
<text transform="translate(545.11,1289.00) scale(1.0500,1)" font-size="16.4" fill="#222222">6</text>
<text transform="translate(609.41,1289.00) scale(1.0500,1)" font-size="16.4" fill="#222222">7</text>
<text transform="translate(673.59,1289.00) scale(1.0500,1)" font-size="16.4" fill="#222222">8</text>
<text transform="translate(737.85,1289.00) scale(1.0500,1)" font-size="16.4" fill="#222222">9</text>
<text transform="translate(796.63,1289.00) scale(1.0500,1)" font-size="16.4" letter-spacing="0.60" fill="#222222">10</text>
<text transform="translate(861.59,1289.00) scale(1.0500,1)" font-size="16.4" letter-spacing="0.60" fill="#222222">11</text>
<text transform="translate(925.20,1289.00) scale(1.0500,1)" font-size="16.4" letter-spacing="0.60" fill="#222222">12</text>
<text transform="translate(978.95,1293.30) scale(1.1123,1)" font-size="21.0" fill="#222222">Q</text>
<text transform="translate(1002.06,1293.30) scale(1.0500,1)" font-size="21.0" letter-spacing="2.09" fill="#222222">[m</text>
<text transform="translate(1028.86,1282.80) scale(1.2339,1)" font-size="10.92" fill="#222222">3</text>
<text transform="translate(1035.40,1293.30) scale(1.0500,1)" font-size="21.0" letter-spacing="0.56" fill="#222222">/h]</text>
<text transform="translate(120.31,1069.00) scale(1.0913,1)" font-size="21.6" fill="#222222">H</text>
<text transform="translate(112.21,1094.00) scale(1.0500,1)" font-size="21.6" letter-spacing="1.13" fill="#222222">[m]</text>
<text transform="translate(1070.83,1069.80) scale(1.0047,1)" font-size="22.0" fill="#222222">NPSH</text>
<text transform="translate(1084.61,1094.00) scale(1.0500,1)" font-size="21.6" letter-spacing="0.98" fill="#222222">[m]</text>
<text transform="translate(279.17,1134.40) scale(1.0500,1)" font-size="17.6" letter-spacing="1.51" fill="#222222">QH</text>
<text transform="translate(265.70,1232.50) scale(1.0500,1)" font-size="17.8" letter-spacing="0.17" fill="#222222">NPSH</text>
</g>
<line x1="163.60" y1="1325.80" x2="1060.20" y2="1325.80" stroke="#999999" stroke-width="1.3"/>
<line x1="164.25" y1="1325.30" x2="164.25" y2="1332.20" stroke="#6a6a6a" stroke-width="1.3"/>
<line x1="280.30" y1="1325.30" x2="280.30" y2="1332.20" stroke="#6a6a6a" stroke-width="1.3"/>
<line x1="396.35" y1="1325.30" x2="396.35" y2="1332.20" stroke="#6a6a6a" stroke-width="1.3"/>
<line x1="512.40" y1="1325.30" x2="512.40" y2="1332.20" stroke="#6a6a6a" stroke-width="1.3"/>
<line x1="628.45" y1="1325.30" x2="628.45" y2="1332.20" stroke="#6a6a6a" stroke-width="1.3"/>
<line x1="744.50" y1="1325.30" x2="744.50" y2="1332.20" stroke="#6a6a6a" stroke-width="1.3"/>
<line x1="860.55" y1="1325.30" x2="860.55" y2="1332.20" stroke="#6a6a6a" stroke-width="1.3"/>
<line x1="129.00" y1="1348.70" x2="1187.50" y2="1348.70" stroke="#aaaaaa" stroke-width="1.1"/>
<line x1="36.00" y1="1348.70" x2="129.30" y2="1348.70" stroke="#262626" stroke-width="1.5"/>
<g font-family="'Liberation Sans', sans-serif" stroke="#ffffff" stroke-width="0.15">
<text transform="translate(148.36,1348.60) scale(1.0000,1)" font-size="16.0" style="font-family:'DejaVu Sans',sans-serif" letter-spacing="1.07" fill="#1a1a1a" stroke="#1a1a1a" stroke-width="0.1">0.0</text>
<text transform="translate(266.56,1348.60) scale(1.0000,1)" font-size="16.0" style="font-family:'DejaVu Sans',sans-serif" letter-spacing="1.13" fill="#1a1a1a" stroke="#1a1a1a" stroke-width="0.1">0.5</text>
<text transform="translate(390.55,1348.60) scale(1.2213,1)" font-size="16.0" style="font-family:'DejaVu Sans',sans-serif" fill="#1a1a1a" stroke="#1a1a1a" stroke-width="0.1">1</text>
<text transform="translate(498.44,1348.60) scale(1.0000,1)" font-size="16.0" style="font-family:'DejaVu Sans',sans-serif" letter-spacing="1.44" fill="#1a1a1a" stroke="#1a1a1a" stroke-width="0.1">1.5</text>
<text transform="translate(622.73,1348.60) scale(1.2228,1)" font-size="16.0" style="font-family:'DejaVu Sans',sans-serif" fill="#1a1a1a" stroke="#1a1a1a" stroke-width="0.1">2</text>
<text transform="translate(731.10,1348.60) scale(1.0000,1)" font-size="16.0" style="font-family:'DejaVu Sans',sans-serif" letter-spacing="1.16" fill="#1a1a1a" stroke="#1a1a1a" stroke-width="0.1">2.5</text>
<text transform="translate(854.89,1348.60) scale(1.1719,1)" font-size="16.0" style="font-family:'DejaVu Sans',sans-serif" fill="#1a1a1a" stroke="#1a1a1a" stroke-width="0.1">3</text>
<text transform="translate(1008.57,1348.50) scale(1.0500,1)" font-size="17.6" letter-spacing="1.69" fill="#2a2a2a">Q[l/s]</text>
</g>
</g>
</svg>
</body>
</html>
